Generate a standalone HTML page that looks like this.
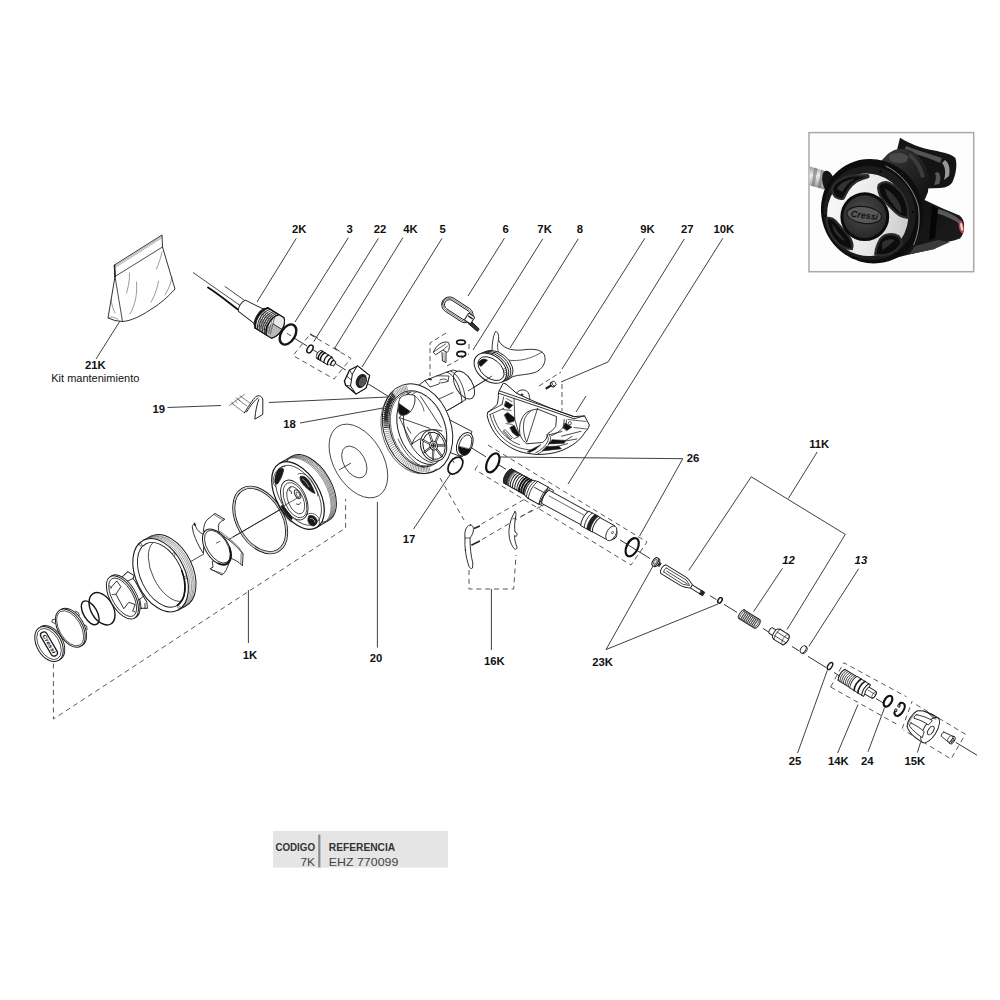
<!DOCTYPE html>
<html><head><meta charset="utf-8"><title>Despiece regulador</title>
<style>
html,body{margin:0;padding:0;background:#fff;}
body{width:1000px;height:1000px;overflow:hidden;position:relative;font-family:"Liberation Sans",sans-serif;}
svg{position:absolute;left:0;top:0;display:block;}
svg text{font-family:"Liberation Sans",sans-serif;fill:#111;}
</style></head><body>
<svg width="1000" height="1000" viewBox="0 0 1000 1000">
<rect x="0" y="0" width="1000" height="1000" fill="#ffffff"/>
<line x1="193" y1="272.5" x2="240" y2="305.4" stroke="#1c1c1c" stroke-width="0.8" />
<line x1="290" y1="335.49" x2="307" y2="346.02" stroke="#1c1c1c" stroke-width="0.9" />
<line x1="312" y1="349.12" x2="321" y2="354.69" stroke="#1c1c1c" stroke-width="0.9" />
<line x1="333" y1="362.13" x2="346" y2="370.18" stroke="#1c1c1c" stroke-width="0.9" />
<line x1="366" y1="382.57" x2="392" y2="398.68" stroke="#1c1c1c" stroke-width="0.9" />
<line x1="462" y1="442.04" x2="486" y2="456.91" stroke="#1c1c1c" stroke-width="0.9" />
<line x1="498" y1="464.34" x2="506" y2="469.3" stroke="#1c1c1c" stroke-width="0.9" />
<line x1="620" y1="539.92" x2="627" y2="544.26" stroke="#1c1c1c" stroke-width="0.9" />
<line x1="640" y1="552.31" x2="650" y2="558.51" stroke="#1c1c1c" stroke-width="0.9" />
<line x1="710" y1="595.68" x2="716.5" y2="599.7" stroke="#1c1c1c" stroke-width="0.9" />
<line x1="724" y1="604.35" x2="737" y2="612.4" stroke="#1c1c1c" stroke-width="0.9" />
<line x1="763" y1="628.51" x2="770" y2="632.85" stroke="#1c1c1c" stroke-width="0.9" />
<line x1="792" y1="646.48" x2="799" y2="650.81" stroke="#1c1c1c" stroke-width="0.9" />
<line x1="808" y1="656.39" x2="826" y2="667.54" stroke="#1c1c1c" stroke-width="0.9" />
<line x1="834" y1="672.49" x2="840" y2="676.21" stroke="#1c1c1c" stroke-width="0.9" />
<line x1="876" y1="698.51" x2="883" y2="702.85" stroke="#1c1c1c" stroke-width="0.9" />
<line x1="955.8" y1="742.4" x2="977" y2="755.2" stroke="#1c1c1c" stroke-width="0.9" />
<line x1="153" y1="583.52" x2="204" y2="553.87" stroke="#1c1c1c" stroke-width="0.8" />
<line x1="228" y1="539.91" x2="232" y2="537.59" stroke="#1c1c1c" stroke-width="0.8" />
<line x1="232" y1="537.59" x2="298" y2="499.21" stroke="#1c1c1c" stroke-width="0.8" />
<line x1="339" y1="470" x2="351" y2="463" stroke="#1c1c1c" stroke-width="0.8" />
<line x1="468" y1="391" x2="492" y2="376" stroke="#1c1c1c" stroke-width="0.8" />
<polyline points="53.4,663.5 53.4,719 345.6,528 345.6,499" fill="none" stroke="#444" stroke-width="0.9" stroke-dasharray="5 3.8" stroke-linejoin="round"/>
<polygon points="310,334.4 351,358.4 334,379 293,355.6" fill="none" stroke="#444" stroke-width="0.9" stroke-dasharray="5 3.8" stroke-linejoin="round"/>
<polyline points="446,333 430,343 430,376" fill="none" stroke="#444" stroke-width="0.9" stroke-dasharray="5 3" stroke-linejoin="round"/>
<polyline points="469,344 469,352" fill="none" stroke="#444" stroke-width="0.9" stroke-dasharray="5 3" stroke-linejoin="round"/>
<polyline points="447,366 469,354" fill="none" stroke="#444" stroke-width="0.9" stroke-dasharray="5 3" stroke-linejoin="round"/>
<polyline points="539,386 561,372" fill="none" stroke="#444" stroke-width="0.9" stroke-dasharray="5 3" stroke-linejoin="round"/>
<polyline points="562,384 562,411" fill="none" stroke="#444" stroke-width="0.9" stroke-dasharray="5 3" stroke-linejoin="round"/>
<polyline points="440,478 464,520" fill="none" stroke="#444" stroke-width="0.9" stroke-dasharray="5 3.8" stroke-linejoin="round"/>
<polyline points="481.5,524 524,499.5" fill="none" stroke="#444" stroke-width="0.9" stroke-dasharray="5 3.8" stroke-linejoin="round"/>
<polyline points="482,539.5 535,508.5" fill="none" stroke="#444" stroke-width="0.9" stroke-dasharray="5 3.8" stroke-linejoin="round"/>
<polyline points="521,516.5 541,506.5" fill="none" stroke="#444" stroke-width="0.9" stroke-dasharray="5 3.8" stroke-linejoin="round"/>
<polyline points="469,570 469,589 513.7,589 516,555" fill="none" stroke="#444" stroke-width="0.9" stroke-dasharray="5 3.8" stroke-linejoin="round"/>
<polyline points="488,445 647,542 631,565 475,469.6" fill="none" stroke="#444" stroke-width="0.9" stroke-dasharray="5 3.8" stroke-linejoin="round"/>
<polyline points="475,469.6 480,462" fill="none" stroke="#444" stroke-width="0.9" stroke-dasharray="5 3.8" stroke-linejoin="round"/>
<polyline points="830.6,687 843.8,662.7 906.5,696.8" fill="none" stroke="#444" stroke-width="0.9" stroke-dasharray="5 3.8" stroke-linejoin="round"/>
<polyline points="830.6,687 898.8,725.4" fill="none" stroke="#444" stroke-width="0.9" stroke-dasharray="5 3.8" stroke-linejoin="round"/>
<polyline points="916.2,704.6 965.4,734.2 951,759 903.5,730" fill="none" stroke="#444" stroke-width="0.9" stroke-dasharray="5 3.8" stroke-linejoin="round"/>
<polyline points="902.2,728.6 912.2,701" fill="none" stroke="#444" stroke-width="0.9" stroke-dasharray="5 3.8" stroke-linejoin="round"/>
<line x1="296.3" y1="238.3" x2="257" y2="302" stroke="#2a2a2a" stroke-width="0.9" />
<line x1="348.4" y1="237.6" x2="295" y2="322" stroke="#2a2a2a" stroke-width="0.9" />
<line x1="378.4" y1="238.3" x2="313.8" y2="341.6" stroke="#2a2a2a" stroke-width="0.9" />
<line x1="402.9" y1="237.6" x2="334.8" y2="348" stroke="#2a2a2a" stroke-width="0.9" />
<line x1="442" y1="238.3" x2="362" y2="367" stroke="#2a2a2a" stroke-width="0.9" />
<line x1="504.4" y1="238.3" x2="468" y2="296" stroke="#2a2a2a" stroke-width="0.9" />
<line x1="542.8" y1="238.8" x2="473" y2="350" stroke="#2a2a2a" stroke-width="0.9" />
<line x1="578.3" y1="238.8" x2="510" y2="348" stroke="#2a2a2a" stroke-width="0.9" />
<line x1="644.8" y1="238.3" x2="562" y2="369" stroke="#2a2a2a" stroke-width="0.9" />
<line x1="722.8" y1="238.3" x2="568" y2="484" stroke="#2a2a2a" stroke-width="0.9" />
<line x1="120" y1="321" x2="96" y2="359" stroke="#2a2a2a" stroke-width="0.9" />
<line x1="167.5" y1="407.5" x2="221" y2="405.5" stroke="#2a2a2a" stroke-width="0.9" />
<line x1="268.8" y1="402.5" x2="388" y2="397" stroke="#2a2a2a" stroke-width="0.9" />
<line x1="300" y1="423" x2="383" y2="408" stroke="#2a2a2a" stroke-width="0.9" />
<line x1="413.5" y1="529" x2="452.5" y2="471" stroke="#2a2a2a" stroke-width="0.9" />
<line x1="377.4" y1="502" x2="377.4" y2="647.6" stroke="#2a2a2a" stroke-width="0.9" />
<line x1="248.4" y1="590" x2="248.4" y2="643" stroke="#2a2a2a" stroke-width="0.9" />
<line x1="491.4" y1="589" x2="491.4" y2="650" stroke="#2a2a2a" stroke-width="0.9" />
<line x1="499" y1="457" x2="682.8" y2="458.7" stroke="#2a2a2a" stroke-width="0.9" />
<line x1="682.8" y1="458.7" x2="639.6" y2="536" stroke="#2a2a2a" stroke-width="0.9" />
<line x1="606" y1="649.6" x2="653" y2="566" stroke="#2a2a2a" stroke-width="0.9" />
<line x1="606" y1="649.6" x2="718" y2="604" stroke="#2a2a2a" stroke-width="0.9" />
<line x1="817.2" y1="452" x2="788.4" y2="498.4" stroke="#2a2a2a" stroke-width="0.9" />
<line x1="751.2" y1="476.8" x2="845.3" y2="534.4" stroke="#2a2a2a" stroke-width="0.9" />
<line x1="751.2" y1="476.8" x2="688.8" y2="570.4" stroke="#2a2a2a" stroke-width="0.9" />
<line x1="845.3" y1="534.4" x2="787" y2="629.6" stroke="#2a2a2a" stroke-width="0.9" />
<line x1="782.4" y1="568.4" x2="753.6" y2="611.6" stroke="#2a2a2a" stroke-width="0.9" />
<line x1="858.7" y1="568.7" x2="808.8" y2="646.4" stroke="#2a2a2a" stroke-width="0.9" />
<line x1="797.6" y1="753" x2="827.3" y2="670.4" stroke="#2a2a2a" stroke-width="0.9" />
<line x1="837.6" y1="753" x2="858" y2="704.5" stroke="#2a2a2a" stroke-width="0.9" />
<line x1="868" y1="751.8" x2="884.5" y2="707.8" stroke="#2a2a2a" stroke-width="0.9" />
<line x1="917.4" y1="752.6" x2="920.6" y2="742.2" stroke="#2a2a2a" stroke-width="0.9" />
<polyline points="684.4,238.8 608,362 561,382" fill="none" stroke="#2a2a2a" stroke-width="0.9" stroke-linejoin="round"/>
<line x1="586" y1="396" x2="576" y2="412" stroke="#2a2a2a" stroke-width="0.9" />
<text x="299.2" y="232.8" font-size="11.3" font-weight="bold" text-anchor="middle"  >2K</text>
<text x="349.6" y="232.8" font-size="11.3" font-weight="bold" text-anchor="middle"  >3</text>
<text x="380" y="232.8" font-size="11.3" font-weight="bold" text-anchor="middle"  >22</text>
<text x="410.4" y="232.8" font-size="11.3" font-weight="bold" text-anchor="middle"  >4K</text>
<text x="442.6" y="232.8" font-size="11.3" font-weight="bold" text-anchor="middle"  >5</text>
<text x="505.6" y="232.8" font-size="11.3" font-weight="bold" text-anchor="middle"  >6</text>
<text x="544.6" y="232.8" font-size="11.3" font-weight="bold" text-anchor="middle"  >7K</text>
<text x="580" y="232.8" font-size="11.3" font-weight="bold" text-anchor="middle"  >8</text>
<text x="647.4" y="232.8" font-size="11.3" font-weight="bold" text-anchor="middle"  >9K</text>
<text x="687.3" y="232.8" font-size="11.3" font-weight="bold" text-anchor="middle"  >27</text>
<text x="723.8" y="232.8" font-size="11.3" font-weight="bold" text-anchor="middle"  >10K</text>
<text x="95.3" y="368.8" font-size="11.3" font-weight="bold" text-anchor="middle"  >21K</text>
<text x="95.3" y="381.8" font-size="11" font-weight="normal" text-anchor="middle"  >Kit mantenimiento</text>
<text x="158.8" y="412.8" font-size="11.3" font-weight="bold" text-anchor="middle"  >19</text>
<text x="289.5" y="427.8" font-size="11.3" font-weight="bold" text-anchor="middle"  >18</text>
<text x="409" y="542.5" font-size="11.3" font-weight="bold" text-anchor="middle"  >17</text>
<text x="376" y="662" font-size="11.3" font-weight="bold" text-anchor="middle"  >20</text>
<text x="250" y="659" font-size="11.3" font-weight="bold" text-anchor="middle"  >1K</text>
<text x="494.4" y="665" font-size="11.3" font-weight="bold" text-anchor="middle"  >16K</text>
<text x="602.5" y="665.6" font-size="11.3" font-weight="bold" text-anchor="middle"  >23K</text>
<text x="693" y="461.5" font-size="11.3" font-weight="bold" text-anchor="middle"  >26</text>
<text x="819.2" y="448" font-size="11.3" font-weight="bold" text-anchor="middle"  >11K</text>
<text x="788.6" y="564" font-size="11.3" font-weight="bold" text-anchor="middle" font-style="italic" >12</text>
<text x="860.9" y="564" font-size="11.3" font-weight="bold" text-anchor="middle" font-style="italic" >13</text>
<text x="795" y="765.3" font-size="11.3" font-weight="bold" text-anchor="middle"  >25</text>
<text x="838.3" y="765.3" font-size="11.3" font-weight="bold" text-anchor="middle"  >14K</text>
<text x="867.3" y="765.3" font-size="11.3" font-weight="bold" text-anchor="middle"  >24</text>
<text x="914.9" y="765.3" font-size="11.3" font-weight="bold" text-anchor="middle"  >15K</text>
<path d="M114.5,265 L162,235 L162.5,247 L175,289 C168,297 160,304 150,310 C141,316 131,321 122.5,321.5 L115,320.5 L108,318 L115,276.5 Z" fill="#fff" stroke="#1c1c1c" stroke-width="0.9" stroke-linejoin="round" stroke-linecap="round" />
<path d="M115,276.5 L162.5,247" fill="none" stroke="#1c1c1c" stroke-width="0.8" stroke-linejoin="round" stroke-linecap="round" />
<path d="M115,276.5 L122.5,321.5" fill="none" stroke="#1c1c1c" stroke-width="0.8" stroke-linejoin="round" stroke-linecap="round" />
<path d="M114.6,265.2 L115,276.5" fill="none" stroke="#1c1c1c" stroke-width="1.5" stroke-linejoin="round" stroke-linecap="round" />
<path d="M114.8,266.3 L162.1,236.3 M114.9,267.6 L162.2,237.6" fill="none" stroke="#666" stroke-width="0.5" stroke-linejoin="round" stroke-linecap="round" />
<path d="M129.5,273 C129.8,281 128,288 126.5,293 M136.5,282 C137.5,295 135,305 130,314 M162,252 C160.5,259 158.5,264 156.5,269 M158.5,281 C157,290 154,297 151,302 M111,299 C111.5,304 113,309 115,313 M172,277 C171,284 168,290 165,295" fill="none" stroke="#555" stroke-width="0.6" stroke-linejoin="round" stroke-linecap="round" />
<path d="M108,318 C110,316.5 114,316.5 118,319.5" fill="none" stroke="#555" stroke-width="0.6" stroke-linejoin="round" stroke-linecap="round" />
<path d="M208,287.5 C217,293 228,302 238,309.5" fill="none" stroke="#111" stroke-width="1.9" stroke-linejoin="round" stroke-linecap="round" />
<path d="M225,286.5 L244,300" fill="none" stroke="#1c1c1c" stroke-width="0.8" stroke-linejoin="round" stroke-linecap="round" />
<g transform="translate(270 323.2) rotate(31.8)">
<path d="M-33,-6.6 L-13,-8.6 L-13,8.6 L-33,6.6 C-35.8,3 -35.8,-3 -33,-6.6 Z" fill="#fff" stroke="#1c1c1c" stroke-width="0.9" stroke-linejoin="round" stroke-linecap="round" />
<path d="M-13,-9.6 L-10,-9.6 L-10,9.6 L-13,9.6 C-16,4 -16,-4 -13,-9.6 Z" fill="#fff" stroke="#1c1c1c" stroke-width="0.9" stroke-linejoin="round" stroke-linecap="round" />
<path d="M-10,-12 L9,-12 C15,-7 15,7 9,12 L-10,12 C-15.5,6 -15.5,-6 -10,-12 Z" fill="#fff" stroke="#1c1c1c" stroke-width="1.1" stroke-linejoin="round" stroke-linecap="round" />
<path d="M3,-1 L13.2,-1 C13.4,4 12.2,9 9,12 L3,12 C0,8 -0.6,3 3,-1 Z" fill="#b9b9b9" stroke="#999" stroke-width="0.4" stroke-linejoin="round" stroke-linecap="round" />
<path d="M3,-12 L9,-12 C12,-10 13.3,-5 13.2,-1 L3,-1 C0.6,-5 0.6,-9 3,-12 Z" fill="#e9e9e9" stroke="#bbb" stroke-width="0.4" stroke-linejoin="round" stroke-linecap="round" />
<path d="M-9,-12 C-14.5,-6 -14.5,6 -9,12" fill="none" stroke="#222" stroke-width="1.0" stroke-linejoin="round" stroke-linecap="round" />
<path d="M-7,-12 C-12.5,-6 -12.5,6 -7,12" fill="none" stroke="#222" stroke-width="1.0" stroke-linejoin="round" stroke-linecap="round" />
<path d="M-5,-12 C-10.5,-6 -10.5,6 -5,12" fill="none" stroke="#222" stroke-width="1.0" stroke-linejoin="round" stroke-linecap="round" />
<path d="M-3,-12 C-8.5,-6 -8.5,6 -3,12" fill="none" stroke="#222" stroke-width="1.0" stroke-linejoin="round" stroke-linecap="round" />
<path d="M-1,-12 C-6.5,-6 -6.5,6 -1,12" fill="none" stroke="#222" stroke-width="1.0" stroke-linejoin="round" stroke-linecap="round" />
<path d="M1,-12 C-4.5,-6 -4.5,6 1,12" fill="none" stroke="#222" stroke-width="1.0" stroke-linejoin="round" stroke-linecap="round" />
<path d="M3,-12 C-2.5,-6 -2.5,6 3,12" fill="none" stroke="#222" stroke-width="1.0" stroke-linejoin="round" stroke-linecap="round" />
<path d="M-13,-7 L-8,9" fill="none" stroke="#444" stroke-width="0.6" stroke-linejoin="round" stroke-linecap="round" />
<path d="M-11,-7 L-6,9" fill="none" stroke="#444" stroke-width="0.6" stroke-linejoin="round" stroke-linecap="round" />
<path d="M-9,-7 L-4,9" fill="none" stroke="#444" stroke-width="0.6" stroke-linejoin="round" stroke-linecap="round" />
<path d="M-7,-7 L-2,9" fill="none" stroke="#444" stroke-width="0.6" stroke-linejoin="round" stroke-linecap="round" />
<path d="M-5,-7 L0,9" fill="none" stroke="#444" stroke-width="0.6" stroke-linejoin="round" stroke-linecap="round" />
<path d="M-3,-7 L2,9" fill="none" stroke="#444" stroke-width="0.6" stroke-linejoin="round" stroke-linecap="round" />
<path d="M-1,-7 L4,9" fill="none" stroke="#444" stroke-width="0.6" stroke-linejoin="round" stroke-linecap="round" />
<path d="M1,-7 L6,9" fill="none" stroke="#444" stroke-width="0.6" stroke-linejoin="round" stroke-linecap="round" />
<path d="M3,-12 C-2.5,-6 -2.5,6 3,12" fill="none" stroke="#111" stroke-width="1.3" stroke-linejoin="round" stroke-linecap="round" />
<path d="M3,-1 L13.2,-1" fill="none" stroke="#222" stroke-width="0.8" stroke-linejoin="round" stroke-linecap="round" />
<path d="M-10,-12 C-15.5,-6 -15.5,6 -10,12" fill="none" stroke="#111" stroke-width="1.5" stroke-linejoin="round" stroke-linecap="round" />
<path d="M-10,-12 L9,-12 C15,-7 15,7 9,12 L-10,12" fill="none" stroke="#111" stroke-width="1.1" stroke-linejoin="round" stroke-linecap="round" />
</g>
<ellipse cx="288" cy="334.5" rx="7" ry="11" fill="#fff" stroke="#151515" stroke-width="2.4" transform="rotate(31.8 288 334.5)" />
<line x1="287" y1="333.33" x2="291" y2="335.81" stroke="#1c1c1c" stroke-width="0.8" />
<ellipse cx="310" cy="349" rx="2.5" ry="4.2" fill="#fff" stroke="#151515" stroke-width="1.5" transform="rotate(31.8 310 349)" />
<path d="M310.4,334 L317.6,338" fill="none" stroke="#1c1c1c" stroke-width="0.9" stroke-linejoin="round" stroke-linecap="round" />
<path d="M334.8,348 L339.4,351.2" fill="none" stroke="#1c1c1c" stroke-width="0.9" stroke-linejoin="round" stroke-linecap="round" />
<g transform="translate(326.2 358.8) rotate(31.8)">
<path d="M-9,-4.4 L4,-4.4 L7,-2.8 L10,-2.2 L10,2.2 L7,2.8 L4,4.4 L-9,4.4 C-11,2 -11,-2 -9,-4.4 Z" fill="#fff" stroke="#1c1c1c" stroke-width="0.9" stroke-linejoin="round" stroke-linecap="round" />
<path d="M-6.8,-4.4 C-8.3,-2 -8.3,2 -6.8,4.4 M-4.2,-4.4 C-5.7,-2 -5.7,2 -4.2,4.4" fill="none" stroke="#111" stroke-width="1.7" stroke-linejoin="round" stroke-linecap="round" />
<path d="M0,-4.4 C-1.5,-2 -1.5,2 0,4.4 M4,-4.4 C2.8,-2 2.8,2 4,4.4" fill="none" stroke="#111" stroke-width="1.3" stroke-linejoin="round" stroke-linecap="round" />
<path d="M7,-2.8 C6,-1 6,1 7,2.8" fill="none" stroke="#111" stroke-width="1.2" stroke-linejoin="round" stroke-linecap="round" />
</g>
<path d="M357.6,366 L369.6,375.6 L366,388 L356,394 L345.6,385.2 L344.4,381 L349.6,370 Z" fill="#fff" stroke="#111" stroke-width="1.3" stroke-linejoin="round" stroke-linecap="round" />
<path d="M357.6,366 L369.6,375.6 L366,388 L356,394 L350.5,386 L352.3,374.5 Z" fill="#fff" stroke="#111" stroke-width="1.0" stroke-linejoin="round" stroke-linecap="round" />
<path d="M352.3,374.5 L349.6,370 M350.5,386 L345.6,385.2 M346.5,376 L351.5,380" fill="none" stroke="#222" stroke-width="0.8" stroke-linejoin="round" stroke-linecap="round" />
<ellipse cx="361.3" cy="381" rx="4.8" ry="6.8" fill="#222" stroke="#1c1c1c" stroke-width="0.9" transform="rotate(23.8 361.3 381)" />
<ellipse cx="362.4" cy="381.6" rx="2.8" ry="4.6" fill="#555" stroke="#777" stroke-width="0.5" transform="rotate(23.8 362.4 381.6)" />
<path d="M229.2,405.6 L244.4,394.4 M231.6,403.2 L244.4,412.8 M236,398 L247,406 M240,396 L250,403" fill="none" stroke="#333" stroke-width="0.6" stroke-linejoin="round" stroke-linecap="round" />
<path d="M244.4,412.8 C250,404 254,397.5 257,396 C260,395 262.5,397 262.8,400 L262.8,414.4 L254.8,419.2 C255.5,411 257,404 258.8,399.5 M246.5,412 C251,405 255,399.5 258,398" fill="none" stroke="#222" stroke-width="1.0" stroke-linejoin="round" stroke-linecap="round" />
<path d="M232,402 l2,3 M235,400 l2,3 M238,398 l2,3" fill="none" stroke="#555" stroke-width="0.5" stroke-linejoin="round" stroke-linecap="round" />
<g transform="translate(49 644) rotate(-30.2)">
<ellipse cx="1.8" cy="0" rx="12.2" ry="19" fill="#fff" stroke="#1c1c1c" stroke-width="0.9" />
<ellipse cx="0" cy="0" rx="12.2" ry="19" fill="#fff" stroke="#1c1c1c" stroke-width="1.0" />
<ellipse cx="0" cy="0" rx="10.2" ry="17" fill="none" stroke="#1c1c1c" stroke-width="0.7" />
<rect x="-3.3" y="-13.5" width="6.6" height="27" rx="3.3" fill="#fff" stroke="#1c1c1c" stroke-width="1.3"/>
<text x="0" y="1.6" font-size="5.2" font-weight="bold" font-style="italic" text-anchor="middle" transform="rotate(90)" textLength="21" lengthAdjust="spacingAndGlyphs">Cressi</text>
</g>
<path d="M55.5,619.2 L52.4,619.6 L51.8,622 L54.6,623.4" fill="#fff" stroke="#1c1c1c" stroke-width="0.8" stroke-linejoin="round" stroke-linecap="round" />
<path d="M75.5,611.2 L78.4,612.6 L79.4,615.4 L77,616" fill="#fff" stroke="#1c1c1c" stroke-width="0.8" stroke-linejoin="round" stroke-linecap="round" />
<path d="M84,624.6 L86.6,626 L87.2,629.6 L84.4,630.6" fill="#fff" stroke="#1c1c1c" stroke-width="0.8" stroke-linejoin="round" stroke-linecap="round" />
<g transform="translate(70.3 628.2) rotate(-30.2)">
<ellipse cx="1.7" cy="0" rx="12.2" ry="20.9" fill="#fff" stroke="#1c1c1c" stroke-width="0.9" />
<ellipse cx="0" cy="0" rx="12.2" ry="20.9" fill="#fff" stroke="#1c1c1c" stroke-width="1.0" />
<ellipse cx="-0.2" cy="0" rx="10.8" ry="19.3" fill="none" stroke="#1c1c1c" stroke-width="0.7" />
</g>
<g transform="translate(90.2 612.8) rotate(-30.2)">
<ellipse cx="0" cy="0" rx="6.8" ry="13.2" fill="none" stroke="#151515" stroke-width="1.4" />
</g>
<g transform="translate(102 608.8) rotate(-30.2)">
<ellipse cx="0" cy="0" rx="11" ry="17.6" fill="none" stroke="#151515" stroke-width="1.4" />
</g>
<g transform="translate(122.4 597.4) rotate(-30.2)">
<path d="M2,-17.5 L9.3,-17.6 L17.7,-19.6 L21.1,-12.8 L18.6,-11 L19.2,-7 L18.6,9.6 L18.8,16.2 L16.2,22 L10.8,18.9 L4,19.5 Z" fill="#fff" stroke="#1c1c1c" stroke-width="0.9" stroke-linejoin="round" stroke-linecap="round" />
<path d="M9.3,-17.6 L12.5,-11.5 L18.6,-11 M12.5,-11.5 L6,-10.5 M14.1,10.3 L18.6,9.6 M14.1,10.3 L10.8,18.9 M14.1,10.3 L7,11.5 M16.5,16.5 L14,21" fill="none" stroke="#1c1c1c" stroke-width="0.8" stroke-linejoin="round" stroke-linecap="round" />
<ellipse cx="1.8" cy="0" rx="12.2" ry="24" fill="#fff" stroke="#1c1c1c" stroke-width="0.9" />
<ellipse cx="0" cy="0" rx="12.2" ry="24" fill="#fff" stroke="#1c1c1c" stroke-width="1.0" />
<ellipse cx="0.3" cy="0" rx="10.2" ry="21.4" fill="none" stroke="#1c1c1c" stroke-width="0.8" />
<path d="M-6,-14 L3.5,-17 L4,-10 L-4,-6 L-4.5,10.5 L3,7.5 L7.5,12.5 L2,17" fill="none" stroke="#1c1c1c" stroke-width="0.8" stroke-linejoin="round" stroke-linecap="round" />
<path d="M-5.5,-16.5 l1,3 M2.5,17.5 l1.2,1.6 M-4,-6 L-7.5,-7.5" fill="none" stroke="#1c1c1c" stroke-width="0.7" stroke-linejoin="round" stroke-linecap="round" />
</g>
<g transform="translate(160.6 575.2) rotate(-26)">
<ellipse cx="8.6" cy="-0.3" rx="24.4" ry="39" fill="#fff" stroke="#1c1c1c" stroke-width="1.0" />
<path d="M0,-39.0 L8.6,-39.3 M0,39.0 L8.6,38.7" fill="none" stroke="#1c1c1c" stroke-width="1.0" stroke-linejoin="round" stroke-linecap="round" />
<path d="M3.2,-39.1 A24.4,39.0 0 0 1 3.2,38.8" fill="none" stroke="#555" stroke-width="0.5" stroke-linejoin="round" stroke-linecap="round" />
<path d="M5,-39.1 A24.4,39.0 0 0 1 5,38.8" fill="none" stroke="#555" stroke-width="0.5" stroke-linejoin="round" stroke-linecap="round" />
<path d="M6.6,-39.1 A24.4,39.0 0 0 1 6.6,38.8" fill="none" stroke="#555" stroke-width="0.5" stroke-linejoin="round" stroke-linecap="round" />
<path d="M8,-39.1 A24.4,39.0 0 0 1 8,38.8" fill="none" stroke="#555" stroke-width="0.5" stroke-linejoin="round" stroke-linecap="round" />
<ellipse cx="0" cy="0" rx="24.4" ry="39" fill="#fff" stroke="#1c1c1c" stroke-width="1.1" />
<ellipse cx="0.8" cy="0" rx="20.6" ry="34.6" fill="none" stroke="#1c1c1c" stroke-width="0.9" />
<path d="M7,-32.5 A17.5,33 0 0 0 7,32.5" fill="none" stroke="#1c1c1c" stroke-width="0.7" stroke-linejoin="round" stroke-linecap="round" />
<path d="M2,34.2 A20.6,34.6 0 0 0 21,5" fill="none" stroke="#111" stroke-width="1.6" stroke-linejoin="round" stroke-linecap="round" />
<ellipse cx="-4.5" cy="-36.2" rx="1.1" ry="1.6" fill="#fff" stroke="#1c1c1c" stroke-width="0.6" />
<ellipse cx="21" cy="-13" rx="1.1" ry="1.6" fill="#fff" stroke="#1c1c1c" stroke-width="0.6" />
<ellipse cx="21.5" cy="13" rx="1.1" ry="1.6" fill="#fff" stroke="#1c1c1c" stroke-width="0.6" />
<ellipse cx="2.5" cy="36.6" rx="1.1" ry="1.6" fill="#fff" stroke="#1c1c1c" stroke-width="0.6" />
</g>
<path d="M203.5,531 C203.5,526 205,521.5 208,519 L215,513.4 L224.9,519.4 C221,521 218.8,523 218.6,525.3 C218.2,528 218.5,530.5 219.3,532.3 Z" fill="#fff" stroke="#1c1c1c" stroke-width="0.9" stroke-linejoin="round" stroke-linecap="round" />
<path d="M214,514.6 L223.6,520.4" fill="none" stroke="#1c1c1c" stroke-width="0.6" stroke-linejoin="round" stroke-linecap="round" />
<path d="M194.5,523.5 C192.5,525 192,526.5 192.4,528 C193,532 194,535.5 195.5,538.6 C197.5,543.5 200,548.5 203.5,553.5 L204,534.5 C201.5,533.5 199,532 197.3,529.5 C196,527.5 195,525.5 194.5,523.5 Z" fill="#fff" stroke="#1c1c1c" stroke-width="0.9" stroke-linejoin="round" stroke-linecap="round" />
<path d="M194.5,523.5 l0.6,1.6" fill="none" stroke="#1c1c1c" stroke-width="1.6" stroke-linejoin="round" stroke-linecap="round" />
<path d="M219.3,532.3 C222,535 224.5,537 227,538.6 C231,541.5 235,545 238.2,548.4 L243.1,554 L242.4,565.9 L238.9,562.4 C236,560.5 233,559 230.5,558.2 L228,557 Z" fill="#fff" stroke="#1c1c1c" stroke-width="0.9" stroke-linejoin="round" stroke-linecap="round" />
<path d="M220.5,531.6 C226,536 233,541.5 238.6,547 L243.1,554 M241.2,553.6 L240.8,564" fill="none" stroke="#1c1c1c" stroke-width="0.6" stroke-linejoin="round" stroke-linecap="round" />
<path d="M212.3,561.5 L213,567.3 L209.9,568.7 L222,575 C224.5,573 226,570.5 227,568 C228.5,565 229.5,562 229.8,559.6 Z" fill="#fff" stroke="#1c1c1c" stroke-width="0.9" stroke-linejoin="round" stroke-linecap="round" />
<path d="M211.5,569.8 L222.3,573.4" fill="none" stroke="#1c1c1c" stroke-width="0.6" stroke-linejoin="round" stroke-linecap="round" />
<g transform="translate(216.85 547) rotate(-32)">
<ellipse cx="0" cy="0" rx="11.5" ry="20" fill="#fff" stroke="#1c1c1c" stroke-width="1.0" />
<ellipse cx="0.6" cy="0" rx="10" ry="18.3" fill="#fff" stroke="#1c1c1c" stroke-width="0.8" />
<path d="M-7.5,14.5 A11.3,19.6 0 0 0 10.4,7.5" fill="none" stroke="#111" stroke-width="1.7" stroke-linejoin="round" stroke-linecap="round" />
</g>
<line x1="216" y1="543.2" x2="220.5" y2="541.2" stroke="#1c1c1c" stroke-width="0.7" />
<g transform="translate(260.2 520) rotate(-30.2)">
<ellipse cx="0" cy="0" rx="23.6" ry="36.6" fill="none" stroke="#1c1c1c" stroke-width="0.9" />
<ellipse cx="0" cy="0" rx="21.6" ry="34.2" fill="none" stroke="#1c1c1c" stroke-width="0.9" />
<ellipse cx="0" cy="0" rx="22.6" ry="35.4" fill="none" stroke="#888" stroke-width="0.4" />
</g>
<line x1="233" y1="537" x2="297" y2="499.79" stroke="#1c1c1c" stroke-width="0.8" />
<g transform="translate(298 495.5) rotate(-30.2)">
<ellipse cx="14" cy="0" rx="21.5" ry="37" fill="#fff" stroke="#1c1c1c" stroke-width="1.0" />
<path d="M0,-37 L14,-37 M0,37 L14,37" fill="none" stroke="#1c1c1c" stroke-width="1.0" stroke-linejoin="round" stroke-linecap="round" />
<path d="M8,-37 A21.5,37 0 0 1 8,37" fill="none" stroke="#444" stroke-width="0.55" stroke-linejoin="round" stroke-linecap="round" />
<path d="M9.2,-37 A21.5,37 0 0 1 9.2,37" fill="none" stroke="#444" stroke-width="0.55" stroke-linejoin="round" stroke-linecap="round" />
<path d="M10.4,-37 A21.5,37 0 0 1 10.4,37" fill="none" stroke="#444" stroke-width="0.55" stroke-linejoin="round" stroke-linecap="round" />
<path d="M11.6,-37 A21.5,37 0 0 1 11.6,37" fill="none" stroke="#444" stroke-width="0.55" stroke-linejoin="round" stroke-linecap="round" />
<path d="M12.8,-37 A21.5,37 0 0 1 12.8,37" fill="none" stroke="#444" stroke-width="0.55" stroke-linejoin="round" stroke-linecap="round" />
<ellipse cx="0" cy="0" rx="21.5" ry="37" fill="#fff" stroke="#111" stroke-width="1.2" />
<ellipse cx="0.5" cy="0" rx="18.5" ry="33" fill="none" stroke="#1c1c1c" stroke-width="0.7" />
</g>
<g transform="translate(294.3 500) rotate(-23)">
<ellipse cx="0" cy="0" rx="12" ry="21" fill="#fff" stroke="#1c1c1c" stroke-width="0.9" />
<ellipse cx="0.6" cy="0.4" rx="10.2" ry="18.6" fill="none" stroke="#1c1c1c" stroke-width="0.7" />
<ellipse cx="1.2" cy="0.8" rx="7.6" ry="14.5" fill="none" stroke="#1c1c1c" stroke-width="0.7" />
</g>
<ellipse cx="297.6" cy="494.2" rx="2.6" ry="4.8" fill="#fff" stroke="#1c1c1c" stroke-width="0.9" transform="rotate(-28 297.6 494.2)" />
<ellipse cx="298" cy="494.6" rx="1.4" ry="3" fill="none" stroke="#1c1c1c" stroke-width="0.6" transform="rotate(-28 298 494.6)" />
<path d="M290.5,487 l-1.6,3.2 l2.2,1 l0.4,2.4 M296.5,504 l2.6,0.6 l1.6,-2" fill="none" stroke="#1c1c1c" stroke-width="0.8" stroke-linejoin="round" stroke-linecap="round" />
<path d="M279,469 C282,467.5 284,468 283.5,470.5 C282.5,475 280.5,480 277.5,484 C275.5,484.5 274.5,483 274.8,480 C275.3,476 276.5,471.5 279,469 Z" fill="#1a1a1a" stroke="#1c1c1c" stroke-width="0.8" stroke-linejoin="round" stroke-linecap="round" />
<path d="M300.5,476.5 C303.5,475.5 306.5,477.5 309,481 C311.5,485 314,490 315,493.5 C312,492.5 308,489.5 304.5,486 C301.5,483 299,479 300.5,476.5 Z" fill="#1a1a1a" stroke="#1c1c1c" stroke-width="0.8" stroke-linejoin="round" stroke-linecap="round" />
<path d="M281,506.5 C283,510.5 286.5,515.5 291,519.5 C292.5,519.5 292.5,518 291.5,516.5 C288.5,512.5 285,508.5 282.5,505.5 Z" fill="#1a1a1a" stroke="#1c1c1c" stroke-width="0.8" stroke-linejoin="round" stroke-linecap="round" />
<path d="M309,516 C312,514.5 315.5,516.5 317,520 C317.5,523 316,525.5 313,526 C310.5,525.5 308.5,523.5 308,521 C307.8,519 308,517 309,516 Z" fill="#1a1a1a" stroke="#1c1c1c" stroke-width="0.8" stroke-linejoin="round" stroke-linecap="round" />
<path d="M302.5,479 C304.5,480 307,483.5 309,487" fill="none" stroke="#ddd" stroke-width="0.7" stroke-linejoin="round" stroke-linecap="round" />
<path d="M310.5,518.5 C312.5,518 314.5,519.5 315,522" fill="none" stroke="#ddd" stroke-width="0.7" stroke-linejoin="round" stroke-linecap="round" />
<path d="M285,466.5 C280,466 275,471 273.5,478 C272.8,482 273.5,485.5 276,487 M298,474 C302,472 308,475 312,481 C315,486 317.5,491.5 318,496 M278.5,505 C280.5,511 285,517.5 291,522 M306,515.5 C309.5,511.5 316,513 319,518.5 C320.5,522.5 319,527 315,528.5" fill="none" stroke="#1c1c1c" stroke-width="0.7" stroke-linejoin="round" stroke-linecap="round" />
<line x1="284" y1="505.8" x2="299" y2="497" stroke="#1c1c1c" stroke-width="0.7" />
<ellipse cx="358.4" cy="461" rx="24.6" ry="40.2" fill="#fff" stroke="#333" stroke-width="0.8" transform="rotate(-30.2 358.4 461)" />
<ellipse cx="354.3" cy="462" rx="10.6" ry="17.4" fill="#fff" stroke="#333" stroke-width="0.8" transform="rotate(-30.2 354.3 462)" />
<line x1="339" y1="470" x2="351" y2="463" stroke="#1c1c1c" stroke-width="0.8" />
<path d="M448,419 L472,431.5 L462,457 L441,449 Z" fill="#fff" stroke="#1c1c1c" stroke-width="0.9" stroke-linejoin="round" stroke-linecap="round" />
<ellipse cx="464.8" cy="444.2" rx="7.6" ry="12.2" fill="#fff" stroke="#1c1c1c" stroke-width="1.0" transform="rotate(21.8 464.8 444.2)" />
<ellipse cx="465.2" cy="444.6" rx="5.8" ry="10.2" fill="#fff" stroke="#1c1c1c" stroke-width="0.8" transform="rotate(21.8 465.2 444.6)" />
<path d="M458.6,446.5 C458.8,452 461.5,456.5 466,455 C468.5,454 470,452 470.6,449.5 Z" fill="#111" stroke="#1c1c1c" stroke-width="0.5" stroke-linejoin="round" stroke-linecap="round" />
<path d="M419,385 L425,380.5 L447,372 L453,370 C461,371 469,380 472,393 L466,399 L462,402 L446.5,411 L440,421 L432,430 Z" fill="#fff" stroke="#1c1c1c" stroke-width="0.9" stroke-linejoin="round" stroke-linecap="round" />
<ellipse cx="464" cy="385" rx="8.4" ry="15.4" fill="#fff" stroke="#1c1c1c" stroke-width="0.9" transform="rotate(-30.2 464 385)" />
<path d="M447,372 C455,375 461,388 462,402" fill="none" stroke="#1c1c1c" stroke-width="0.9" stroke-linejoin="round" stroke-linecap="round" />
<path d="M450.5,371 C458.5,374 464.5,387 465.5,400" fill="none" stroke="#1c1c1c" stroke-width="0.8" stroke-linejoin="round" stroke-linecap="round" />
<path d="M439,399 L453,392.5 M446.5,411 L462,402" fill="none" stroke="#1c1c1c" stroke-width="0.8" stroke-linejoin="round" stroke-linecap="round" />
<path d="M425,380.5 L430,387 L439,384 L440,382 M437,375.8 L449,376 L448,381.5 L441,383 M440,380 C443,378 447,379 448,381" fill="none" stroke="#1c1c1c" stroke-width="0.8" stroke-linejoin="round" stroke-linecap="round" />
<path d="M429,379 L431,379.6" fill="none" stroke="#1c1c1c" stroke-width="1.6" stroke-linejoin="round" stroke-linecap="round" />
<g transform="translate(417.5 428.6) rotate(-20)">
<ellipse cx="0" cy="0" rx="33.5" ry="46" fill="#fff" stroke="#1c1c1c" stroke-width="1.0" />
<path d="M-10,-43 A32.3,44.6 0 0 0 4,44.6" fill="none" stroke="#1c1c1c" stroke-width="0.6" stroke-linejoin="round" stroke-linecap="round" />
<path d="M-2.81,44.23 L-2.44,39.85" fill="none" stroke="#555" stroke-width="0.55" stroke-linejoin="round" stroke-linecap="round" />
<path d="M-4.43,43.98 L-3.85,39.62" fill="none" stroke="#555" stroke-width="0.55" stroke-linejoin="round" stroke-linecap="round" />
<path d="M-6.03,43.61 L-5.25,39.29" fill="none" stroke="#555" stroke-width="0.55" stroke-linejoin="round" stroke-linecap="round" />
<path d="M-7.63,43.14 L-6.63,38.86" fill="none" stroke="#555" stroke-width="0.55" stroke-linejoin="round" stroke-linecap="round" />
<path d="M-9.2,42.55 L-8,38.33" fill="none" stroke="#555" stroke-width="0.55" stroke-linejoin="round" stroke-linecap="round" />
<path d="M-10.75,41.85 L-9.35,37.71" fill="none" stroke="#555" stroke-width="0.55" stroke-linejoin="round" stroke-linecap="round" />
<path d="M-12.27,41.05 L-10.67,36.98" fill="none" stroke="#555" stroke-width="0.55" stroke-linejoin="round" stroke-linecap="round" />
<path d="M-13.76,40.14 L-11.97,36.16" fill="none" stroke="#555" stroke-width="0.55" stroke-linejoin="round" stroke-linecap="round" />
<path d="M-15.22,39.13 L-13.23,35.25" fill="none" stroke="#555" stroke-width="0.55" stroke-linejoin="round" stroke-linecap="round" />
<path d="M-16.63,38.02 L-14.46,34.25" fill="none" stroke="#555" stroke-width="0.55" stroke-linejoin="round" stroke-linecap="round" />
<path d="M-18.01,36.81 L-15.66,33.16" fill="none" stroke="#555" stroke-width="0.55" stroke-linejoin="round" stroke-linecap="round" />
<path d="M-19.33,35.51 L-16.81,31.99" fill="none" stroke="#555" stroke-width="0.55" stroke-linejoin="round" stroke-linecap="round" />
<path d="M-20.61,34.11 L-17.92,30.73" fill="none" stroke="#555" stroke-width="0.55" stroke-linejoin="round" stroke-linecap="round" />
<path d="M-21.84,32.63 L-18.99,29.4" fill="none" stroke="#555" stroke-width="0.55" stroke-linejoin="round" stroke-linecap="round" />
<path d="M-23.01,31.07 L-20.01,27.99" fill="none" stroke="#555" stroke-width="0.55" stroke-linejoin="round" stroke-linecap="round" />
<path d="M-24.12,29.42 L-20.97,26.5" fill="none" stroke="#555" stroke-width="0.55" stroke-linejoin="round" stroke-linecap="round" />
<path d="M-25.16,27.7 L-21.88,24.96" fill="none" stroke="#555" stroke-width="0.55" stroke-linejoin="round" stroke-linecap="round" />
<path d="M-26.15,25.91 L-22.74,23.34" fill="none" stroke="#555" stroke-width="0.55" stroke-linejoin="round" stroke-linecap="round" />
<path d="M-27.07,24.05 L-23.54,21.67" fill="none" stroke="#555" stroke-width="0.55" stroke-linejoin="round" stroke-linecap="round" />
<path d="M-27.91,22.13 L-24.27,19.94" fill="none" stroke="#555" stroke-width="0.55" stroke-linejoin="round" stroke-linecap="round" />
<path d="M-28.69,20.16 L-24.95,18.16" fill="none" stroke="#555" stroke-width="0.55" stroke-linejoin="round" stroke-linecap="round" />
<path d="M-29.39,18.13 L-25.56,16.33" fill="none" stroke="#555" stroke-width="0.55" stroke-linejoin="round" stroke-linecap="round" />
<path d="M-30.02,16.06 L-26.11,14.46" fill="none" stroke="#555" stroke-width="0.55" stroke-linejoin="round" stroke-linecap="round" />
<path d="M-30.57,13.94 L-26.58,12.56" fill="none" stroke="#555" stroke-width="0.55" stroke-linejoin="round" stroke-linecap="round" />
<path d="M-31.04,11.79 L-26.99,10.62" fill="none" stroke="#555" stroke-width="0.55" stroke-linejoin="round" stroke-linecap="round" />
<path d="M-31.44,9.61 L-27.34,8.66" fill="none" stroke="#555" stroke-width="0.55" stroke-linejoin="round" stroke-linecap="round" />
<path d="M-31.75,7.4 L-27.61,6.67" fill="none" stroke="#555" stroke-width="0.55" stroke-linejoin="round" stroke-linecap="round" />
<path d="M-31.98,5.18 L-27.81,4.67" fill="none" stroke="#555" stroke-width="0.55" stroke-linejoin="round" stroke-linecap="round" />
<path d="M-32.13,2.94 L-27.94,2.65" fill="none" stroke="#555" stroke-width="0.55" stroke-linejoin="round" stroke-linecap="round" />
<path d="M-32.2,0.7 L-28,0.63" fill="none" stroke="#555" stroke-width="0.55" stroke-linejoin="round" stroke-linecap="round" />
<path d="M-32.18,-1.55 L-27.98,-1.4" fill="none" stroke="#555" stroke-width="0.55" stroke-linejoin="round" stroke-linecap="round" />
<path d="M-32.08,-3.79 L-27.9,-3.42" fill="none" stroke="#555" stroke-width="0.55" stroke-linejoin="round" stroke-linecap="round" />
<path d="M-31.9,-6.03 L-27.74,-5.43" fill="none" stroke="#555" stroke-width="0.55" stroke-linejoin="round" stroke-linecap="round" />
<path d="M-31.64,-8.24 L-27.51,-7.43" fill="none" stroke="#555" stroke-width="0.55" stroke-linejoin="round" stroke-linecap="round" />
<path d="M-31.3,-10.44 L-27.21,-9.41" fill="none" stroke="#555" stroke-width="0.55" stroke-linejoin="round" stroke-linecap="round" />
<path d="M-30.87,-12.61 L-26.85,-11.36" fill="none" stroke="#222" stroke-width="1.3" stroke-linejoin="round" stroke-linecap="round" />
<path d="M-30.37,-14.75 L-26.41,-13.29" fill="none" stroke="#222" stroke-width="1.3" stroke-linejoin="round" stroke-linecap="round" />
<path d="M-29.79,-16.85 L-25.91,-15.18" fill="none" stroke="#222" stroke-width="1.3" stroke-linejoin="round" stroke-linecap="round" />
<path d="M-29.14,-18.9 L-25.34,-17.03" fill="none" stroke="#222" stroke-width="1.3" stroke-linejoin="round" stroke-linecap="round" />
<path d="M-28.4,-20.91 L-24.7,-18.84" fill="none" stroke="#222" stroke-width="1.3" stroke-linejoin="round" stroke-linecap="round" />
<path d="M-27.6,-22.87 L-24,-20.6" fill="none" stroke="#222" stroke-width="1.3" stroke-linejoin="round" stroke-linecap="round" />
<path d="M-26.73,-24.76 L-23.24,-22.31" fill="none" stroke="#222" stroke-width="1.3" stroke-linejoin="round" stroke-linecap="round" />
<path d="M-25.78,-26.6 L-22.42,-23.96" fill="none" stroke="#222" stroke-width="1.3" stroke-linejoin="round" stroke-linecap="round" />
<path d="M-24.77,-28.36 L-21.54,-25.55" fill="none" stroke="#222" stroke-width="1.3" stroke-linejoin="round" stroke-linecap="round" />
<path d="M-23.7,-30.05 L-20.61,-27.08" fill="none" stroke="#222" stroke-width="1.3" stroke-linejoin="round" stroke-linecap="round" />
<path d="M-22.57,-31.67 L-19.63,-28.53" fill="none" stroke="#222" stroke-width="1.3" stroke-linejoin="round" stroke-linecap="round" />
<path d="M-21.38,-33.2 L-18.59,-29.91" fill="none" stroke="#222" stroke-width="1.3" stroke-linejoin="round" stroke-linecap="round" />
<path d="M-20.13,-34.65 L-17.51,-31.22" fill="none" stroke="#222" stroke-width="1.3" stroke-linejoin="round" stroke-linecap="round" />
<path d="M-18.84,-36.01 L-16.38,-32.44" fill="none" stroke="#222" stroke-width="1.3" stroke-linejoin="round" stroke-linecap="round" />
<path d="M-17.49,-37.28 L-15.21,-33.58" fill="none" stroke="#222" stroke-width="1.3" stroke-linejoin="round" stroke-linecap="round" />
<path d="M-16.1,-38.45 L-14,-34.64" fill="none" stroke="#222" stroke-width="1.3" stroke-linejoin="round" stroke-linecap="round" />
<path d="M-14.67,-39.53 L-12.76,-35.61" fill="none" stroke="#222" stroke-width="1.3" stroke-linejoin="round" stroke-linecap="round" />
<path d="M-13.2,-40.5 L-11.48,-36.48" fill="none" stroke="#222" stroke-width="1.3" stroke-linejoin="round" stroke-linecap="round" />
<path d="M-11.7,-41.37 L-10.17,-37.27" fill="none" stroke="#222" stroke-width="1.3" stroke-linejoin="round" stroke-linecap="round" />
<path d="M-10.16,-42.13 L-8.84,-37.96" fill="none" stroke="#555" stroke-width="0.55" stroke-linejoin="round" stroke-linecap="round" />
<path d="M-8.61,-42.79 L-7.48,-38.55" fill="none" stroke="#555" stroke-width="0.55" stroke-linejoin="round" stroke-linecap="round" />
<path d="M-7.02,-43.33 L-6.11,-39.04" fill="none" stroke="#555" stroke-width="0.55" stroke-linejoin="round" stroke-linecap="round" />
<path d="M-5.43,-43.77 L-4.72,-39.43" fill="none" stroke="#555" stroke-width="0.55" stroke-linejoin="round" stroke-linecap="round" />
<path d="M-3.81,-44.09 L-3.32,-39.72" fill="none" stroke="#555" stroke-width="0.55" stroke-linejoin="round" stroke-linecap="round" />
<path d="M-2.19,-44.3 L-1.9,-39.91" fill="none" stroke="#555" stroke-width="0.55" stroke-linejoin="round" stroke-linecap="round" />
<path d="M-0.56,-44.39 L-0.49,-39.99" fill="none" stroke="#555" stroke-width="0.55" stroke-linejoin="round" stroke-linecap="round" />
<path d="M1.07,-44.38 L0.93,-39.98" fill="none" stroke="#555" stroke-width="0.55" stroke-linejoin="round" stroke-linecap="round" />
<path d="M2.69,-44.24 L2.34,-39.86" fill="none" stroke="#555" stroke-width="0.55" stroke-linejoin="round" stroke-linecap="round" />
<path d="M4.31,-44 L3.75,-39.64" fill="none" stroke="#555" stroke-width="0.55" stroke-linejoin="round" stroke-linecap="round" />
<path d="M-28.4,-19.11 L-27.48,-21.54 L-26.44,-23.87 L-25.3,-26.12 L-24.06,-28.26 L-22.73,-30.29 L-21.31,-32.2 L-19.8,-33.98 L-18.22,-35.63 L-16.56,-37.14 L-14.84,-38.5 L-13.33,-35.85 L-14.88,-34.58 L-16.37,-33.18 L-17.8,-31.64 L-19.15,-29.98 L-20.43,-28.2 L-21.63,-26.31 L-22.74,-24.32 L-23.76,-22.23 L-24.69,-20.05 L-25.53,-17.8 Z" fill="#2b2b2b" stroke="#2b2b2b" stroke-width="0.3" stroke-linejoin="round" stroke-linecap="round" />
<ellipse cx="0.3" cy="0.3" rx="27.3" ry="39.3" fill="#fff" stroke="#1c1c1c" stroke-width="0.9" />
<ellipse cx="0.5" cy="0.5" rx="26.2" ry="38.2" fill="#fff" stroke="#1c1c1c" stroke-width="0.6" />
<clipPath id="cpb"><ellipse cx="0.5" cy="0.5" rx="26.2" ry="38.2"/></clipPath>
<g clip-path="url(#cpb)">
<ellipse cx="7" cy="1.5" rx="26.2" ry="38.2" fill="#fff" stroke="#1c1c1c" stroke-width="0.9" />
<ellipse cx="13.5" cy="3" rx="26.2" ry="38.2" fill="#fff" stroke="#1c1c1c" stroke-width="0.8" />
</g>
</g>
<path d="M399.4,417.6 L430,428.4 M420.4,396 L440.8,427.2 M399.4,417.6 L412,444 M407.2,427.2 L410.8,433.2" fill="none" stroke="#1c1c1c" stroke-width="0.8" stroke-linejoin="round" stroke-linecap="round" />
<path d="M399.4,417.6 L414,399.5" fill="none" stroke="#1c1c1c" stroke-width="0.8" stroke-linejoin="round" stroke-linecap="round" />
<path d="M400,398 C403,394.5 409,393.5 414.5,395.5 C416,401 414,408 409.6,412.5 C406,415.5 401.5,416 399.5,414 C397.5,409 398,402.5 400,398 Z" fill="#fff" stroke="#1c1c1c" stroke-width="0.9" stroke-linejoin="round" stroke-linecap="round" />
<path d="M399.2,403.5 L410,411.3 C407,415 402,416 399.6,414 C398.6,411 398.6,407 399.2,403.5 Z" fill="#111" stroke="#1c1c1c" stroke-width="0.5" stroke-linejoin="round" stroke-linecap="round" />
<path d="M414.5,395.5 C419,399 423,405 424,411" fill="none" stroke="#1c1c1c" stroke-width="0.7" stroke-linejoin="round" stroke-linecap="round" />
<path d="M412,444 C414,438 418,433 424,431 C430,429 437,429.5 442,431 M412,444 C416,441 420,438.5 424.5,437" fill="none" stroke="#1c1c1c" stroke-width="0.9" stroke-linejoin="round" stroke-linecap="round" />
<g transform="translate(433.6 445.6) rotate(-18)">
<ellipse cx="0" cy="0" rx="12.8" ry="16" fill="#fff" stroke="#1c1c1c" stroke-width="1.0" />
<ellipse cx="0.3" cy="0.3" rx="10.8" ry="13.8" fill="none" stroke="#1c1c1c" stroke-width="0.9" />
<path d="M3.3,0.97 L10.48,3.34" fill="none" stroke="#1a1a1a" stroke-width="2.1" stroke-linejoin="round" stroke-linecap="round" />
<path d="M3.3,0.97 L10.09,3.19" fill="none" stroke="#fff" stroke-width="0.7" stroke-linejoin="round" stroke-linecap="round" />
<path d="M1.44,3.63 L4.56,12.51" fill="none" stroke="#1a1a1a" stroke-width="2.1" stroke-linejoin="round" stroke-linecap="round" />
<path d="M1.44,3.63 L4.4,11.96" fill="none" stroke="#fff" stroke-width="0.7" stroke-linejoin="round" stroke-linecap="round" />
<path d="M-1.49,3.6 L-4.73,12.4" fill="none" stroke="#1a1a1a" stroke-width="2.1" stroke-linejoin="round" stroke-linecap="round" />
<path d="M-1.49,3.6 L-4.56,11.86" fill="none" stroke="#fff" stroke-width="0.7" stroke-linejoin="round" stroke-linecap="round" />
<path d="M-3.31,0.9 L-10.52,3.1" fill="none" stroke="#1a1a1a" stroke-width="2.1" stroke-linejoin="round" stroke-linecap="round" />
<path d="M-3.31,0.9 L-10.13,2.97" fill="none" stroke="#fff" stroke-width="0.7" stroke-linejoin="round" stroke-linecap="round" />
<path d="M-2.68,-2.46 L-8.51,-8.5" fill="none" stroke="#1a1a1a" stroke-width="2.1" stroke-linejoin="round" stroke-linecap="round" />
<path d="M-2.68,-2.46 L-8.2,-8.13" fill="none" stroke="#fff" stroke-width="0.7" stroke-linejoin="round" stroke-linecap="round" />
<path d="M-0.06,-4 L-0.19,-13.8" fill="none" stroke="#1a1a1a" stroke-width="2.1" stroke-linejoin="round" stroke-linecap="round" />
<path d="M-0.06,-4 L-0.18,-13.2" fill="none" stroke="#fff" stroke-width="0.7" stroke-linejoin="round" stroke-linecap="round" />
<path d="M2.6,-2.57 L8.27,-8.87" fill="none" stroke="#1a1a1a" stroke-width="2.1" stroke-linejoin="round" stroke-linecap="round" />
<path d="M2.6,-2.57 L7.97,-8.48" fill="none" stroke="#fff" stroke-width="0.7" stroke-linejoin="round" stroke-linecap="round" />
<path d="M3.34,0.76 L10.6,2.63" fill="none" stroke="#1a1a1a" stroke-width="2.1" stroke-linejoin="round" stroke-linecap="round" />
<path d="M3.34,0.76 L10.21,2.52" fill="none" stroke="#fff" stroke-width="0.7" stroke-linejoin="round" stroke-linecap="round" />
<ellipse cx="0" cy="0" rx="3.8" ry="4.5" fill="#fff" stroke="#1c1c1c" stroke-width="1.0" />
<ellipse cx="0" cy="0" rx="2.2" ry="2.7" fill="#fff" stroke="#1c1c1c" stroke-width="0.9" />
<ellipse cx="0" cy="0" rx="1" ry="1.3" fill="#222" stroke="#1c1c1c" stroke-width="0.8" />
</g>
<path d="M398,439 C404,452 412,462 424,468" fill="none" stroke="#1c1c1c" stroke-width="0.7" stroke-linejoin="round" stroke-linecap="round" />
<ellipse cx="455.4" cy="465.6" rx="6.2" ry="9.4" fill="#fff" stroke="#151515" stroke-width="1.7" transform="rotate(35.8 455.4 465.6)" />
<path d="M452.5,460.5 l1.5,2" fill="none" stroke="#1c1c1c" stroke-width="0.9" stroke-linejoin="round" stroke-linecap="round" />
<ellipse cx="492.8" cy="462.8" rx="5.6" ry="10.2" fill="#fff" stroke="#111" stroke-width="2.2" transform="rotate(25.8 492.8 462.8)" />
<ellipse cx="632.2" cy="547.2" rx="5.6" ry="9.8" fill="#fff" stroke="#111" stroke-width="2.2" transform="rotate(25.8 632.2 547.2)" />
<line x1="626" y1="543.64" x2="640" y2="552.31" stroke="#1c1c1c" stroke-width="0.9" />
<g transform="translate(457.6 310) rotate(33)">
<rect x="-17.5" y="-7.8" width="34.5" height="15.6" rx="7.8" fill="#fff" stroke="#1c1c1c" stroke-width="0.9"/>
<rect x="-16.1" y="-6.4" width="31.7" height="12.8" rx="6.4" fill="none" stroke="#555" stroke-width="0.7"/>
<rect x="-14.7" y="-5.0" width="28.9" height="10.0" rx="5.0" fill="#fff" stroke="#1c1c1c" stroke-width="0.9"/>
<path d="M-16,-4 C-17.2,-1.5 -17.2,1.5 -16,4" fill="none" stroke="#333" stroke-width="0.9" stroke-linejoin="round" stroke-linecap="round" />
<path d="M17.5,2 L28.5,4.2 L28.3,7.2 L16.5,5.6 Z" fill="#333" stroke="#1c1c1c" stroke-width="0.9" stroke-linejoin="round" stroke-linecap="round" />
<rect x="11" y="-3.4" width="7.4" height="8" rx="1" fill="#fff" stroke="#1c1c1c" stroke-width="1.0"/>
<path d="M12.5,-0.8 L17,-0.8" fill="none" stroke="#1c1c1c" stroke-width="1.3" stroke-linejoin="round" stroke-linecap="round" />
</g>
<path d="M433.5,352 C436,345 443,340.5 448.5,342.5 C450,346 449.5,350 447,352.5 L443,350 L436,354.5 Z" fill="#fff" stroke="#1c1c1c" stroke-width="0.9" stroke-linejoin="round" stroke-linecap="round" />
<path d="M433.5,352 L445.5,344 M443,350 L447.5,346" fill="none" stroke="#1c1c1c" stroke-width="0.7" stroke-linejoin="round" stroke-linecap="round" />
<path d="M442,352.5 L442.5,361 L446,362.5 L446,352.5" fill="#fff" stroke="#1c1c1c" stroke-width="0.9" stroke-linejoin="round" stroke-linecap="round" />
<path d="M444,353 L444.2,361.5" fill="none" stroke="#1c1c1c" stroke-width="0.5" stroke-linejoin="round" stroke-linecap="round" />
<ellipse cx="461" cy="342.3" rx="4.3" ry="2.1" fill="#fff" stroke="#151515" stroke-width="1.7" />
<ellipse cx="461.3" cy="353.9" rx="4.4" ry="2.6" fill="#fff" stroke="#151515" stroke-width="1.7" />
<path d="M461,355.5 l1.5,1.2" fill="none" stroke="#1c1c1c" stroke-width="0.8" stroke-linejoin="round" stroke-linecap="round" />
<path d="M478,356 C482,352 487,351 492,351.5 C492,344 493,336 495.5,331.5 C498,331.5 499,335 498.5,340 C502,348 511,351 522,350 C533,348.5 541,349 544.5,355 C546.5,362 543,369 535,372.5 C527,375 519,374.5 513,376.5 L507.5,380 C500,383 492,381.5 486,377 C480,372 475,362 478,356 Z" fill="#fff" stroke="#1c1c1c" stroke-width="0.9" stroke-linejoin="round" stroke-linecap="round" />
<path d="M492,351.5 C496,356 503,360 512,360.5 C524,361 534,357 542,352 M498.5,340 C497,345 497,349 499,353" fill="none" stroke="#1c1c1c" stroke-width="0.7" stroke-linejoin="round" stroke-linecap="round" />
<ellipse cx="496.7" cy="365.5" rx="12.5" ry="18.2" fill="#fff" stroke="#1c1c1c" stroke-width="0.9" transform="rotate(-51 496.7 365.5)" />
<ellipse cx="494.6" cy="366.4" rx="12.5" ry="18.2" fill="#fff" stroke="#1c1c1c" stroke-width="0.9" transform="rotate(-51 494.6 366.4)" />
<ellipse cx="492.5" cy="367.3" rx="12.5" ry="18.2" fill="#fff" stroke="#1c1c1c" stroke-width="0.9" transform="rotate(-51 492.5 367.3)" />
<ellipse cx="490.4" cy="368.2" rx="12.6" ry="18.3" fill="#fff" stroke="#1c1c1c" stroke-width="1.0" transform="rotate(-51 490.4 368.2)" />
<ellipse cx="491" cy="368.6" rx="9.4" ry="15" fill="#fff" stroke="#1c1c1c" stroke-width="0.9" transform="rotate(-51 491 368.6)" />
<path d="M478.8,362.6 C480,359 484,358 487.6,360.2 L481,366.5 C479.5,366 478.6,364.5 478.8,362.6 Z" fill="#111" stroke="#1c1c1c" stroke-width="0.5" stroke-linejoin="round" stroke-linecap="round" />
<path d="M503.5,369 l2.6,-1.2" fill="none" stroke="#1c1c1c" stroke-width="0.5" stroke-linejoin="round" stroke-linecap="round" />
<path d="M504,371 l2.6,-1.2" fill="none" stroke="#1c1c1c" stroke-width="0.5" stroke-linejoin="round" stroke-linecap="round" />
<path d="M504.5,373 l2.6,-1.2" fill="none" stroke="#1c1c1c" stroke-width="0.5" stroke-linejoin="round" stroke-linecap="round" />
<path d="M505,375 l2.6,-1.2" fill="none" stroke="#1c1c1c" stroke-width="0.5" stroke-linejoin="round" stroke-linecap="round" />
<path d="M505.5,377 l2.6,-1.2" fill="none" stroke="#1c1c1c" stroke-width="0.5" stroke-linejoin="round" stroke-linecap="round" />
<path d="M506,379 l2.6,-1.2" fill="none" stroke="#1c1c1c" stroke-width="0.5" stroke-linejoin="round" stroke-linecap="round" />
<line x1="468" y1="391" x2="492" y2="376" stroke="#1c1c1c" stroke-width="0.8" />
<path d="M546.5,388.3 L551,385.5" fill="none" stroke="#222" stroke-width="2.2" stroke-linejoin="round" stroke-linecap="round" />
<ellipse cx="552.5" cy="384.5" rx="1.7" ry="2.6" fill="#fff" stroke="#1c1c1c" stroke-width="1.0" transform="rotate(-30 552.5 384.5)" />
<ellipse cx="554" cy="383.6" rx="1.7" ry="2.6" fill="#fff" stroke="#1c1c1c" stroke-width="0.8" transform="rotate(-30 554 383.6)" />
<path d="M516.4,393.2 C518,390.5 521,389.6 524.4,390 C527.5,390.8 529.2,393.5 529.6,397.5 L530,399.6 Z" fill="#fff" stroke="#1c1c1c" stroke-width="0.9" stroke-linejoin="round" stroke-linecap="round" />
<ellipse cx="522" cy="394.8" rx="1" ry="1" fill="#666" stroke="#1c1c1c" stroke-width="0.8" />
<path d="M499.2,390.8 L503.2,383.2 L506,384 L516.4,393.2 L530,399.6 L552,408.8 L563.5,413 L574,416.6 L584.5,415.9 L589.4,425 C588.5,428 587,430.5 585.2,432 C583,435.5 580.5,438.5 578.2,440.4 C575,443.5 571,446 567,448.1 C562.5,450.5 558,452 553,453 C547,454.2 541,454.6 535.5,454.4 L526.8,453.2 C522,452.5 518,451 514,449.2 C509.5,447 505.5,444.3 502,441.2 C497.8,437.5 494.8,433.5 492.4,429.2 C490,425 488,420 487.2,415.6 L487.6,412.4 C491,410 494.5,407.5 497.2,404.4 C498.2,400 498.6,396.5 498.4,393.2 Z" fill="#fff" stroke="#1c1c1c" stroke-width="1.0" stroke-linejoin="round" stroke-linecap="round" />
<path d="M499.2,390.8 L552,408.8 L574,416.6 M498.4,393.2 L552,411.2 L563.5,415.2 L574,418.7 L584.5,415.9" fill="none" stroke="#1c1c1c" stroke-width="0.9" stroke-linejoin="round" stroke-linecap="round" />
<path d="M490,414.6 C491.5,420 493.5,425 496,429.5 C498.5,433.5 502,437.5 506,440.5 C509.5,443.5 514,446 518.5,447.6 C523,449 528,450 533.5,450.2" fill="none" stroke="#1c1c1c" stroke-width="0.8" stroke-linejoin="round" stroke-linecap="round" />
<path d="M493.2,415 C494.5,420 496.5,424.5 499,428.6 C501.5,432.5 504.5,435.5 508,438.2 C511.5,441 515,443 519.5,444.6" fill="none" stroke="#1c1c1c" stroke-width="0.8" stroke-linejoin="round" stroke-linecap="round" />
<path d="M487.6,412.4 L502,404.4 M490,414.6 L503.6,408.4 M502,404.4 L503.6,397" fill="none" stroke="#1c1c1c" stroke-width="0.8" stroke-linejoin="round" stroke-linecap="round" />
<path d="M514,398.8 L514.8,419.6 L519.6,435.6" fill="none" stroke="#1c1c1c" stroke-width="0.8" stroke-linejoin="round" stroke-linecap="round" />
<path d="M506,401.2 L512.8,405.2 L509.2,408.8 L504.4,406 Z" fill="#111" stroke="#1c1c1c" stroke-width="0.6" stroke-linejoin="round" stroke-linecap="round" />
<path d="M504.4,414.8 L507.6,412.4 L514.8,418 L514,421.2 L508.4,422.8 Z" fill="#111" stroke="#1c1c1c" stroke-width="0.6" stroke-linejoin="round" stroke-linecap="round" />
<path d="M510,427.6 L514,425.2 L519.6,435.6 L517.2,436.4 L512.4,432.4 Z" fill="#111" stroke="#1c1c1c" stroke-width="0.6" stroke-linejoin="round" stroke-linecap="round" />
<path d="M506.5,398.6 L512,401.6 M503,409.6 L511,410.4 M506,423.6 L512.5,424.4" fill="none" stroke="#1c1c1c" stroke-width="0.7" stroke-linejoin="round" stroke-linecap="round" />
<path d="M503.2,431 L505.2,429.6 L512.4,437.6 L510.6,439.4 Z M504.6,431.6 L510.8,438.4 M514,438.6 L519,436.6" fill="none" stroke="#1c1c1c" stroke-width="0.7" stroke-linejoin="round" stroke-linecap="round" />
<path d="M537.4,409 L556.5,416.6 L555.8,426.4 C553.5,429.5 551,431.5 548.1,433.4 L546,439 C545,440.5 544,441.5 542.5,442.5 L526.6,443.8 C524,441.5 522.5,439.5 522,438.8 C520,436 519.4,433 519.6,430 C519.6,426 520,423 521.2,420.4 C522.5,416.5 524.5,414 526.8,412.4 C530,410.5 533.5,409.5 537.4,409 Z" fill="#fff" stroke="#1c1c1c" stroke-width="0.9" stroke-linejoin="round" stroke-linecap="round" />
<path d="M530.4,411.4 C527.5,413.5 525.5,416.5 524.4,419.6 C523.5,423 523.2,426.5 523.6,430 C524,434.5 524.8,438 526.4,441.4" fill="none" stroke="#1c1c1c" stroke-width="0.8" stroke-linejoin="round" stroke-linecap="round" />
<path d="M537.4,409 L526.8,442" fill="none" stroke="#1c1c1c" stroke-width="0.8" stroke-linejoin="round" stroke-linecap="round" />
<path d="M564.2,419.4 C564,423 563.4,426 562.8,427.8 C559,432 555.5,434 551.6,435.5 M566.5,420 C566.2,423 566,425.5 565.4,427.4" fill="none" stroke="#1c1c1c" stroke-width="0.8" stroke-linejoin="round" stroke-linecap="round" />
<path d="M563.2,427.8 L564.9,422.9 L571.9,427.1 L567,430.6 Z" fill="#111" stroke="#1c1c1c" stroke-width="0.6" stroke-linejoin="round" stroke-linecap="round" />
<ellipse cx="569.8" cy="423.2" rx="1.6" ry="1.6" fill="#fff" stroke="#1c1c1c" stroke-width="0.7" />
<path d="M568,419.5 L586,421.5 M574,427.5 L586.5,429" fill="none" stroke="#1c1c1c" stroke-width="0.7" stroke-linejoin="round" stroke-linecap="round" />
<path d="M552.3,439.7 L565.6,440.4 L564.2,443.2 L548.8,443.9 Z" fill="#111" stroke="#1c1c1c" stroke-width="0.6" stroke-linejoin="round" stroke-linecap="round" />
<path d="M546,446.7 L558.6,446 L561.4,448.8 L542.5,450.9 Z" fill="#111" stroke="#1c1c1c" stroke-width="0.6" stroke-linejoin="round" stroke-linecap="round" />
<path d="M561.4,436.2 L581,431.3 M553,443.2 L576.8,439 M565.6,440.4 L572,436.5 M558.6,446 L567.5,443.6 M549,434.8 L562,431.5" fill="none" stroke="#1c1c1c" stroke-width="0.8" stroke-linejoin="round" stroke-linecap="round" />
<path d="M546.7,434.8 C548.3,437 548.6,439 548.1,440.4 C547,443.5 545,446 542.5,448.1 C540.5,450 538,451.6 535.5,453 M549,434 C550.6,436.5 551,439 550.3,441 C549,444.5 547,447 544.6,449.4 C542.5,451.2 540,452.8 537.8,454" fill="none" stroke="#1c1c1c" stroke-width="0.8" stroke-linejoin="round" stroke-linecap="round" />
<path d="M527.5,451.5 L541,444.5 L535.5,449.6 L529.5,452.4 Z" fill="#111" stroke="#1c1c1c" stroke-width="0.5" stroke-linejoin="round" stroke-linecap="round" />
<g transform="translate(507.6 476) rotate(28.8)">
<path d="M0,-8 L27,-8 L27,8 L0,8 C-3.5,4 -3.5,-4 0,-8 Z" fill="#fff" stroke="#1c1c1c" stroke-width="1.0" stroke-linejoin="round" stroke-linecap="round" />
<path d="M0,-8 L4,-8 C1,-4 1,4 4,8 L0,8 C-3.5,4 -3.5,-4 0,-8 Z" fill="#2a2a2a" stroke="#1c1c1c" stroke-width="0.6" stroke-linejoin="round" stroke-linecap="round" />
<path d="M4.6,-8 C1.6,-4 1.6,4 4.6,8" fill="none" stroke="#333" stroke-width="0.8" stroke-linejoin="round" stroke-linecap="round" />
<path d="M5.6,-8 C2.6,-4 2.6,4 5.6,8" fill="none" stroke="#333" stroke-width="0.8" stroke-linejoin="round" stroke-linecap="round" />
<path d="M7.5,-8 C4.5,-4 4.5,4 7.5,8" fill="none" stroke="#222" stroke-width="1.0" stroke-linejoin="round" stroke-linecap="round" />
<path d="M10,-8 C7,-4 7,4 10,8" fill="none" stroke="#222" stroke-width="1.0" stroke-linejoin="round" stroke-linecap="round" />
<path d="M12.5,-8 C9.5,-4 9.5,4 12.5,8" fill="none" stroke="#222" stroke-width="1.0" stroke-linejoin="round" stroke-linecap="round" />
<path d="M15,-8 C12,-4 12,4 15,8" fill="none" stroke="#222" stroke-width="1.0" stroke-linejoin="round" stroke-linecap="round" />
<path d="M17.5,-8 C14.5,-4 14.5,4 17.5,8" fill="none" stroke="#111" stroke-width="1.9" stroke-linejoin="round" stroke-linecap="round" />
<path d="M20,-8 C17,-4 17,4 20,8" fill="none" stroke="#111" stroke-width="1.9" stroke-linejoin="round" stroke-linecap="round" />
<path d="M22.5,-8 C19.5,-4 19.5,4 22.5,8" fill="none" stroke="#111" stroke-width="1.9" stroke-linejoin="round" stroke-linecap="round" />
<path d="M24,-8.5 L29,-9.8 L41,-9.8 L41,9.8 L29,9.8 L24,8.5 C21.5,4 21.5,-4 24,-8.5 Z" fill="#fff" stroke="#1c1c1c" stroke-width="1.0" stroke-linejoin="round" stroke-linecap="round" />
<path d="M29,-9.8 C26.5,-4 26.5,4 29,9.8 M29,-3 L41,-3 M26.5,-9 C24,-4 24,4 26.5,9" fill="none" stroke="#1c1c1c" stroke-width="0.8" stroke-linejoin="round" stroke-linecap="round" />
<path d="M41,-9.5 L47,-9.5 L48,-6 L44,-5 M41,9.5 L45,9.5 L45.5,6" fill="none" stroke="#1c1c1c" stroke-width="0.8" stroke-linejoin="round" stroke-linecap="round" />
<path d="M41,-9.5 C38.8,-4 38.8,4 41,9.5 M43,-9 C41,-4 41,4 43,9" fill="none" stroke="#1c1c1c" stroke-width="0.8" stroke-linejoin="round" stroke-linecap="round" />
<path d="M43,-7.5 L88,-7.5 L88,7.5 L43,7.5 C41,3 41,-3 43,-7.5" fill="#fff" stroke="#1c1c1c" stroke-width="0.9" stroke-linejoin="round" stroke-linecap="round" />
<path d="M46,-2.5 L86,-2.5" fill="none" stroke="#1c1c1c" stroke-width="0.6" stroke-linejoin="round" stroke-linecap="round" />
<path d="M88,-8.3 L101,-8.3 L101,8.3 L88,8.3 C85.7,4 85.7,-4 88,-8.3 Z" fill="#fff" stroke="#1c1c1c" stroke-width="0.9" stroke-linejoin="round" stroke-linecap="round" />
<path d="M92,-8.3 C89.7,-4 89.7,4 92,8.3" fill="none" stroke="#1c1c1c" stroke-width="0.8" stroke-linejoin="round" stroke-linecap="round" />
<path d="M95,-8.3 C92.7,-4 92.7,4 95,8.3 L99,8.3 C96.7,4 96.7,-4 99,-8.3 Z" fill="#222" stroke="#1c1c1c" stroke-width="0.5" stroke-linejoin="round" stroke-linecap="round" />
<path d="M101,-8 L117,-8 C122,-6 124.5,-2 124.5,0.5 C124.5,4 121,7.5 116,8 L101,8 C98.7,4 98.7,-4 101,-8 Z" fill="#fff" stroke="#1c1c1c" stroke-width="0.9" stroke-linejoin="round" stroke-linecap="round" />
<ellipse cx="118.5" cy="0.3" rx="4.6" ry="8" fill="#fff" stroke="#1c1c1c" stroke-width="0.8" />
<ellipse cx="119.2" cy="-1" rx="0.9" ry="1.3" fill="none" stroke="#1c1c1c" stroke-width="0.6" />
</g>
<path d="M470.5,525 C473,525 473.8,527.5 473.3,531 C472.8,534 471.5,536 470,538 C470,548 471,556 472.8,563 L472.5,568 C471,569.5 469.5,568 468.5,565 C465.5,556 464.5,546 465,538 C464.5,534 465,529 467,527 C468,525.8 469.3,525 470.5,525 Z" fill="#fff" stroke="#1c1c1c" stroke-width="0.9" stroke-linejoin="round" stroke-linecap="round" />
<path d="M465,538 L470,538 M465,550 l1,0.5" fill="none" stroke="#1c1c1c" stroke-width="0.7" stroke-linejoin="round" stroke-linecap="round" />
<path d="M474.5,528.3 L479.3,526.2 M471.8,545 L479.3,541.2" fill="none" stroke="#222" stroke-width="1.6" stroke-linejoin="round" stroke-linecap="round" />
<path d="M515,511.5 C516.2,511.5 516.2,514 515.6,517 C514.6,522 514.3,528 515,532 C516.5,532 517.3,533.5 517,535.5 C516,536.5 515,536.3 514.5,535.5 C514.5,540 515.8,544 517,547 C517,549.5 515.5,549.8 514,548.5 C510.5,544 508.5,537 509,530 C509.5,523 512,516 515,511.5 Z" fill="#fff" stroke="#1c1c1c" stroke-width="0.9" stroke-linejoin="round" stroke-linecap="round" />
<path d="M512.8,519 L516,518" fill="none" stroke="#1c1c1c" stroke-width="0.7" stroke-linejoin="round" stroke-linecap="round" />
<g transform="translate(655.8 562.2) rotate(31.8)">
<path d="M0,-1.8 L5.2,-1.8 L5.2,1.8 L0,1.8 Z" fill="#333" stroke="#1c1c1c" stroke-width="0.8" stroke-linejoin="round" stroke-linecap="round" />
<ellipse cx="0.9" cy="0" rx="2.5" ry="4.5" fill="#fff" stroke="#1c1c1c" stroke-width="0.9" />
<ellipse cx="-0.6" cy="0" rx="2.7" ry="4.7" fill="#cfcfcf" stroke="#1c1c1c" stroke-width="1.0" />
<ellipse cx="-0.6" cy="0" rx="1.3" ry="2.6" fill="#eee" stroke="#1c1c1c" stroke-width="0.6" />
</g>
<g transform="translate(661.6 568) rotate(31.8)">
<path d="M33,-1.8 L47,-1.8 L47,1.8 L33,1.8 Z" fill="#fff" stroke="#1c1c1c" stroke-width="0.9" stroke-linejoin="round" stroke-linecap="round" />
<path d="M46,-2.1 L49.5,-2.1 L49.5,2.1 L46,2.1 Z" fill="#222" stroke="#1c1c1c" stroke-width="0.8" stroke-linejoin="round" stroke-linecap="round" />
<path d="M2,-5 L26,-5 C30,-4.5 33,-3 35,-2 L35,2 C33,3 30,4.5 26,5 L2,5 C-0.5,2.5 -0.5,-2.5 2,-5 Z" fill="#fff" stroke="#1c1c1c" stroke-width="0.9" stroke-linejoin="round" stroke-linecap="round" />
<path d="M4,-2.5 L27,-2.8 L33,0 L27,2.6 L4,2.3 M4,-2.5 C3,-1 3,1 4,2.3 M6,0 L30,0" fill="none" stroke="#1c1c1c" stroke-width="0.7" stroke-linejoin="round" stroke-linecap="round" />
</g>
<ellipse cx="720" cy="600.4" rx="1.8" ry="3" fill="#fff" stroke="#151515" stroke-width="1.5" transform="rotate(31.8 720 600.4)" />
<g transform="translate(740.2 613.4) rotate(31.8)">
<path d="M1.5,-5.2 L20,-5.2 C22.3,-3 22.3,3 20,5.2 L1.5,5.2 C-0.8,3 -0.8,-3 1.5,-5.2 Z" fill="#fff" stroke="#1c1c1c" stroke-width="0.7" stroke-linejoin="round" stroke-linecap="round" />
<ellipse cx="1.6" cy="0" rx="2.1" ry="5.2" fill="none" stroke="#333" stroke-width="0.7" />
<ellipse cx="3.45" cy="0" rx="2.1" ry="5.2" fill="none" stroke="#333" stroke-width="0.7" />
<ellipse cx="5.3" cy="0" rx="2.1" ry="5.2" fill="none" stroke="#333" stroke-width="0.7" />
<ellipse cx="7.15" cy="0" rx="2.1" ry="5.2" fill="none" stroke="#333" stroke-width="0.7" />
<ellipse cx="9" cy="0" rx="2.1" ry="5.2" fill="none" stroke="#333" stroke-width="0.7" />
<ellipse cx="10.85" cy="0" rx="2.1" ry="5.2" fill="none" stroke="#333" stroke-width="0.7" />
<ellipse cx="12.7" cy="0" rx="2.1" ry="5.2" fill="none" stroke="#333" stroke-width="0.7" />
<ellipse cx="14.55" cy="0" rx="2.1" ry="5.2" fill="none" stroke="#333" stroke-width="0.7" />
<ellipse cx="16.4" cy="0" rx="2.1" ry="5.2" fill="none" stroke="#333" stroke-width="0.7" />
<ellipse cx="18.25" cy="0" rx="2.1" ry="5.2" fill="none" stroke="#333" stroke-width="0.7" />
<ellipse cx="20.1" cy="0" rx="2.1" ry="5.2" fill="none" stroke="#333" stroke-width="0.7" />
</g>
<g transform="translate(770.6 630.4) rotate(31.8)">
<path d="M0,-3.2 L5,-3.2 L5,3.2 L0,3.2 C-1.5,1.5 -1.5,-1.5 0,-3.2 Z" fill="#fff" stroke="#1c1c1c" stroke-width="0.9" stroke-linejoin="round" stroke-linecap="round" />
<path d="M5,-4.8 L7.5,-6.0 L18,-6.0 C20.8,-3.6 20.8,3.6 18,6.0 L7.5,6.0 L5,4.8 C3.6,2.4 3.6,-2.4 5,-4.8 Z" fill="#fff" stroke="#1c1c1c" stroke-width="0.9" stroke-linejoin="round" stroke-linecap="round" />
<path d="M7.5,-6.0 C6,-3 6,3 7.5,6.0 M6.6,-2 L19.4,-2 M6.6,2.4 L19.4,2.4" fill="none" stroke="#1c1c1c" stroke-width="0.7" stroke-linejoin="round" stroke-linecap="round" />
<ellipse cx="17.6" cy="0" rx="2.6" ry="5.8" fill="none" stroke="#1c1c1c" stroke-width="0.6" />
</g>
<ellipse cx="804.2" cy="650" rx="2.5" ry="4" fill="#fff" stroke="#1c1c1c" stroke-width="0.8" transform="rotate(31.8 804.2 650)" />
<ellipse cx="803.2" cy="649.4" rx="2.5" ry="4" fill="#fff" stroke="#1c1c1c" stroke-width="0.9" transform="rotate(31.8 803.2 649.4)" />
<ellipse cx="830" cy="666" rx="2" ry="3.9" fill="#fff" stroke="#151515" stroke-width="1.4" transform="rotate(31.8 830 666)" />
<g transform="translate(841.5 674.8) rotate(31.8)">
<path d="M0,-6.5 L14,-6.5 L14,6.5 L0,6.5 C-2.3,3 -2.3,-3 0,-6.5 Z" fill="#fff" stroke="#1c1c1c" stroke-width="0.9" stroke-linejoin="round" stroke-linecap="round" />
<path d="M0.2,-6.5 C-2.1,-3 -2.1,3 0.2,6.5" fill="none" stroke="#222" stroke-width="0.8" stroke-linejoin="round" stroke-linecap="round" />
<path d="M2.2,-6.5 C-0.1,-3 -0.1,3 2.2,6.5" fill="none" stroke="#222" stroke-width="0.8" stroke-linejoin="round" stroke-linecap="round" />
<path d="M4.2,-6.5 C1.9,-3 1.9,3 4.2,6.5" fill="none" stroke="#222" stroke-width="0.8" stroke-linejoin="round" stroke-linecap="round" />
<path d="M6.2,-6.5 C3.9,-3 3.9,3 6.2,6.5" fill="none" stroke="#222" stroke-width="0.8" stroke-linejoin="round" stroke-linecap="round" />
<path d="M8.2,-6.5 C5.9,-3 5.9,3 8.2,6.5" fill="none" stroke="#222" stroke-width="0.8" stroke-linejoin="round" stroke-linecap="round" />
<path d="M10.2,-6.5 C7.9,-3 7.9,3 10.2,6.5" fill="none" stroke="#222" stroke-width="0.8" stroke-linejoin="round" stroke-linecap="round" />
<path d="M12.2,-6.5 C9.9,-3 9.9,3 12.2,6.5" fill="none" stroke="#222" stroke-width="0.8" stroke-linejoin="round" stroke-linecap="round" />
<path d="M14,-6.8 L30,-6.8 L30,6.8 L14,6.8 C11.8,3 11.8,-3 14,-6.8 Z" fill="#fff" stroke="#1c1c1c" stroke-width="0.9" stroke-linejoin="round" stroke-linecap="round" />
<path d="M19,-6.8 C16.8,-3 16.8,3 19,6.8 M23.5,-6.8 C21.3,-3 21.3,3 23.5,6.8" fill="none" stroke="#151515" stroke-width="1.6" stroke-linejoin="round" stroke-linecap="round" />
<path d="M28,-6.8 C25.8,-3 25.8,3 28,6.8" fill="none" stroke="#151515" stroke-width="1.0" stroke-linejoin="round" stroke-linecap="round" />
<path d="M30,-4 L38.5,-4 C40.3,-2 40.3,2 38.5,4 L30,4 C28.6,2 28.6,-2 30,-4 Z" fill="#fff" stroke="#1c1c1c" stroke-width="0.9" stroke-linejoin="round" stroke-linecap="round" />
<path d="M30.5,-1 L39.5,-1" fill="none" stroke="#1c1c1c" stroke-width="0.6" stroke-linejoin="round" stroke-linecap="round" />
<ellipse cx="38.3" cy="0" rx="1.5" ry="3.6" fill="none" stroke="#1c1c1c" stroke-width="0.6" />
</g>
<ellipse cx="888" cy="701.2" rx="3.5" ry="6" fill="#fff" stroke="#111" stroke-width="2.2" transform="rotate(31.8 888 701.2)" />
<g transform="translate(899.7 709.5) rotate(31.8)">
<path d="M-2.2,-2.6 C-4.6,-6 -1.5,-7.8 1,-7 C4.4,-5.5 4.8,3.5 1.8,6.6 C-0.5,8.3 -4.2,6.2 -2.6,2.8" fill="none" stroke="#111" stroke-width="2.0" stroke-linejoin="round" stroke-linecap="round" />
<ellipse cx="-2.6" cy="-2.6" rx="1.2" ry="1.2" fill="#fff" stroke="#111" stroke-width="0.9" />
<ellipse cx="-2.9" cy="2.6" rx="1.2" ry="1.2" fill="#fff" stroke="#111" stroke-width="0.9" />
</g>
<g transform="translate(922.9 725.6) rotate(31.8)">
<path d="M-13,-9 C-9,-13 -2,-14.5 6,-14.5 L9,-14.5 C15,-10 15,10 9,14.5 L6,14.5 C-2,14.5 -9,13 -13,9 C-15.5,5 -15.5,-5 -13,-9 Z" fill="#fff" stroke="#1c1c1c" stroke-width="1.0" stroke-linejoin="round" stroke-linecap="round" />
<ellipse cx="8.5" cy="0" rx="6.4" ry="14.5" fill="#fff" stroke="#1c1c1c" stroke-width="0.9" />
<ellipse cx="9.3" cy="0" rx="2.5" ry="4.8" fill="#fff" stroke="#1c1c1c" stroke-width="0.9" />
<path d="M-11,-6 C-4,-8.5 2,-9.5 5.5,-9 C5,-7 4.5,-5 4.3,-3.5 C0,-3.8 -6,-3.3 -11.5,-1.5 C-12.3,-3 -12,-5 -11,-6 Z" fill="#fff" stroke="#1c1c1c" stroke-width="0.8" stroke-linejoin="round" stroke-linecap="round" />
<path d="M-11.5,4 C-6,3.4 0,3.6 4.4,4.5 C4.6,6.5 5.2,8.8 6,10.5 C1,10.5 -6,9.5 -11,7.5 C-12,6.3 -12.2,5 -11.5,4 Z" fill="#fff" stroke="#1c1c1c" stroke-width="0.8" stroke-linejoin="round" stroke-linecap="round" />
<path d="M-6,-13 C-2,-13.6 3,-13.8 7.5,-13 M-2,-14 C1,-12.5 4,-12 7,-12" fill="none" stroke="#1c1c1c" stroke-width="0.7" stroke-linejoin="round" stroke-linecap="round" />
<path d="M-13,-9 C-14,-3 -14,3 -13,9" fill="none" stroke="#1c1c1c" stroke-width="0.5" stroke-linejoin="round" stroke-linecap="round" />
</g>
<g transform="translate(942.5 734.2) rotate(31.8)">
<path d="M0,-2.4 L9,-3.6 L9,3.6 L0,2.4 C-1,1 -1,-1 0,-2.4 Z" fill="#fff" stroke="#1c1c1c" stroke-width="0.8" stroke-linejoin="round" stroke-linecap="round" />
<ellipse cx="11.5" cy="0" rx="2.2" ry="4.2" fill="#fff" stroke="#1c1c1c" stroke-width="0.8" />
<path d="M9,-3.6 L11.5,-4.2 M9,3.6 L11.5,4.2" fill="none" stroke="#1c1c1c" stroke-width="0.8" stroke-linejoin="round" stroke-linecap="round" />
<ellipse cx="9" cy="0" rx="2" ry="3.6" fill="#fff" stroke="#1c1c1c" stroke-width="0.7" />
<ellipse cx="11.7" cy="0" rx="1.2" ry="2.4" fill="#999" stroke="#1c1c1c" stroke-width="0.8" />
</g>
<rect x="273" y="831" width="175" height="36.6" fill="#e5e5e5"/>
<rect x="318.2" y="834.5" width="2.2" height="33" fill="#8a8a8a"/>
<text x="315" y="850.6" font-size="10.6" font-weight="bold" text-anchor="end" textLength="39.6" lengthAdjust="spacingAndGlyphs" style="fill:#333">CODIGO</text>
<text x="328.8" y="850.6" font-size="10.6" font-weight="bold" text-anchor="start" textLength="66.4" lengthAdjust="spacingAndGlyphs" style="fill:#333">REFERENCIA</text>
<text x="315" y="866" font-size="11" font-weight="normal" text-anchor="end" textLength="14.6" lengthAdjust="spacingAndGlyphs" style="fill:#444">7K</text>
<text x="328.8" y="866" font-size="11" font-weight="normal" text-anchor="start" textLength="69.5" lengthAdjust="spacingAndGlyphs" style="fill:#444">EHZ 770099</text>
<defs>
<linearGradient id="gsil" x1="0" y1="0" x2="1" y2="1"><stop offset="0" stop-color="#fdfdfd"/><stop offset="0.55" stop-color="#e9e9e9"/><stop offset="1" stop-color="#bdbdbd"/></linearGradient>
<linearGradient id="ghose" x1="0" y1="0" x2="0" y2="1"><stop offset="0" stop-color="#9a9a9a"/><stop offset="0.4" stop-color="#efefef"/><stop offset="1" stop-color="#8a8a8a"/></linearGradient>
<radialGradient id="gbtn" cx="0.45" cy="0.4" r="0.7"><stop offset="0" stop-color="#4c4c4c"/><stop offset="1" stop-color="#232323"/></radialGradient>
<linearGradient id="gbody" x1="0" y1="0" x2="1" y2="1"><stop offset="0" stop-color="#3a3a3a"/><stop offset="0.5" stop-color="#121212"/><stop offset="1" stop-color="#1e1e1e"/></linearGradient>
<clipPath id="cph"><rect x="809.5" y="133.3" width="163.6" height="137.8"/></clipPath>
</defs>
<rect x="809" y="132.6" width="164.7" height="139.1" fill="#fdfdfd" stroke="#a9a9a9" stroke-width="1.5"/>
<g clip-path="url(#cph)">
<path d="M808,166 L830,172.5 L826,190 L808,185 Z" fill="url(#ghose)"/>
<path d="M814,167.6 L817.5,168.6 L814.5,186.6 L811.5,185.8 Z" fill="#6a6a6a" opacity="0.55"/>
<path d="M821,169.8 L824,170.7 L820.5,188.3 L818,187.6 Z" fill="#555" opacity="0.5"/>
<ellipse cx="828.5" cy="182" rx="6" ry="11.5" fill="#161616" transform="rotate(-14 828.5 182)"/>
<path d="M900,137.7 C905,141 915,146 929,149.6 C940,152 950,153 955.4,158 C957.5,165 956,174 952.6,181.8 C950,186 946,187.8 940,188 L926,188.5 L915,176 L897,150 Z" fill="#141414"/>
<path d="M906,146 C916,150 930,154 942,158 L940,163 C930,158 916,154 904,151 Z" fill="#777" opacity="0.65"/>
<path d="M945,160 C949,163 950.5,169 949,176 L944,180 C946,173 945.5,167 942,163 Z" fill="#cfcfcf" opacity="0.7"/>
<path d="M938,172 C941,175 941,180 939,184 L934,185 C936,181 936.5,176 935,173 Z" fill="#9a9a9a" opacity="0.5"/>
<path d="M880,162 L888,153.8 C894,149 903,147 912,151 C920,156 927,166 929,178 L928,192 L924.6,200 L942.8,208.4 L959.6,215.4 C963,218 964.5,222 964,227 C964,232 962.5,236 960,238.5 L954,240.6 L942,243 L934.4,249 L909,254.6 L880,262 Z" fill="url(#gbody)"/>
<path d="M889,155.5 C895,151.5 903,152 908,156.5 L907,161.5 C902,164 895,163.5 890,160.5 Z" fill="#4a4a4a"/>
<path d="M910,153 C917,158 923,167 925,177 L921,178 C919,169 914,161 908,156 Z" fill="#3c3c3c"/>
<path d="M938,209 C946,211 955,215 960,220 L959.5,224 C953,219 945,215.5 937,213.5 Z" fill="#6e6e6e" opacity="0.75"/>
<path d="M932,206 L938,208.6 L935,238 L929,240 Z" fill="#050505"/>
<ellipse cx="961.3" cy="226.8" rx="2.4" ry="6.6" fill="#b24a44" transform="rotate(-10 961.3 226.8)"/>
<ellipse cx="961.6" cy="226.8" rx="1.2" ry="4.2" fill="#e9d2d0" transform="rotate(-10 961.6 226.8)"/>
<path d="M909,254.6 L934.4,249 L950,242 L938,240 L915,246 Z" fill="#3a3a3a"/>
<ellipse cx="872" cy="211.2" rx="50.5" ry="52.8" fill="#0d0d0d" transform="rotate(-30 872 211.2)"/>
<path d="M885.5,166 C901,173 913,188 918,205 C920.5,218 919,233 913.5,245" fill="none" stroke="#a8a8a8" stroke-width="0.8"/>
<ellipse cx="869.6" cy="213" rx="45.5" ry="47.5" fill="#1c1c1c" transform="rotate(-30 869.6 213)"/>
<ellipse cx="867.7" cy="214.8" rx="40.2" ry="41.6" fill="url(#gsil)" transform="rotate(-30 867.7 214.8)"/>
<path d="M832.2,189 C833.5,184.5 836.5,181.5 841,179.4 C846,176.5 852,175.4 856.2,175.4 L868,175.2 C868.8,176 868.6,176.8 868,177.2 C864,178.2 860.5,179.5 857,181.2 C853,184 850,187 848.2,189.8 L843.4,198.6 C840.5,199.2 837.5,198.6 835.4,197 C833.5,195 832.3,192.3 832.2,189 Z" fill="#0c0c0c" stroke="#2c2c2c" stroke-width="2.2" stroke-linejoin="round"/>
<path d="M879,184.5 C882,182 886,181.5 889.5,183 C898,187 904,195 906.4,202.4 C908,208 908.5,214 907.7,218 C903,217.5 899,215.5 896,212.8 C890,207 884,201.5 880.4,196 C878.5,192 877.5,187.5 879,184.5 Z" fill="#0c0c0c" stroke="#2c2c2c" stroke-width="2.2" stroke-linejoin="round"/>
<path d="M827,218 C830,217.5 833,218.5 835,220.6 C840,226 846,232 850.5,238.8 C852.5,243 853,246.5 851.8,249.2 C847,249 842.5,247 838.8,244 C833.5,239.5 830,234 828.4,228.4 C827,224.5 826.5,221 827,218 Z" fill="#0c0c0c" stroke="#2c2c2c" stroke-width="2.2" stroke-linejoin="round"/>
<path d="M877.8,244 C879.5,239.5 882,236.5 885.6,235 C890,233.5 895,234 898.6,236.2 C901,238.5 902,241 901.2,244 C898,249 893.5,252.5 888.2,254.4 C884,255.5 879,255.5 875.2,254.4 C875.5,250.5 876.5,247 877.8,244 Z" fill="#0c0c0c" stroke="#2c2c2c" stroke-width="2.2" stroke-linejoin="round"/>
<path d="M837,189 C839,184 845,180.5 855,178.6 C850,181.5 846,185.5 842.5,192 Z" fill="#333"/>
<path d="M885,188.5 C891,191 897,198 900.5,206 C901.5,209 901.5,212 901,213.5 C896,209 890,201 886.5,195 Z" fill="#2f2f2f"/>
<path d="M831.5,223 C835,228 840,235 845.5,241 C842,240 837,236 834,231 Z" fill="#2f2f2f"/>
<path d="M882,243 C885,239.5 890,238.5 895,240 C891,243.5 887,247.5 882.5,250 Z" fill="#2f2f2f"/>
<circle cx="864.8" cy="216.7" r="24.4" fill="#0b0b0b"/>
<circle cx="864.8" cy="216.7" r="21.4" fill="url(#gbtn)"/>
<ellipse cx="864.2" cy="215" rx="17.4" ry="8.4" fill="#595959" stroke="#151515" stroke-width="1.1" transform="rotate(7 864.2 215)"/>
<text x="864.6" y="218.4" font-size="9" font-weight="bold" font-style="italic" text-anchor="middle" style="fill:#111" transform="rotate(7 864.2 215)">Cressi</text>
<circle cx="880.5" cy="171.5" r="1.1" fill="#000"/>
<circle cx="913" cy="212" r="1.1" fill="#000"/>
<circle cx="898.5" cy="254" r="1.1" fill="#000"/>
<circle cx="853.5" cy="258" r="1.1" fill="#000"/>
<circle cx="824.5" cy="216" r="1.1" fill="#000"/>
</g>
</svg>
</body></html>
